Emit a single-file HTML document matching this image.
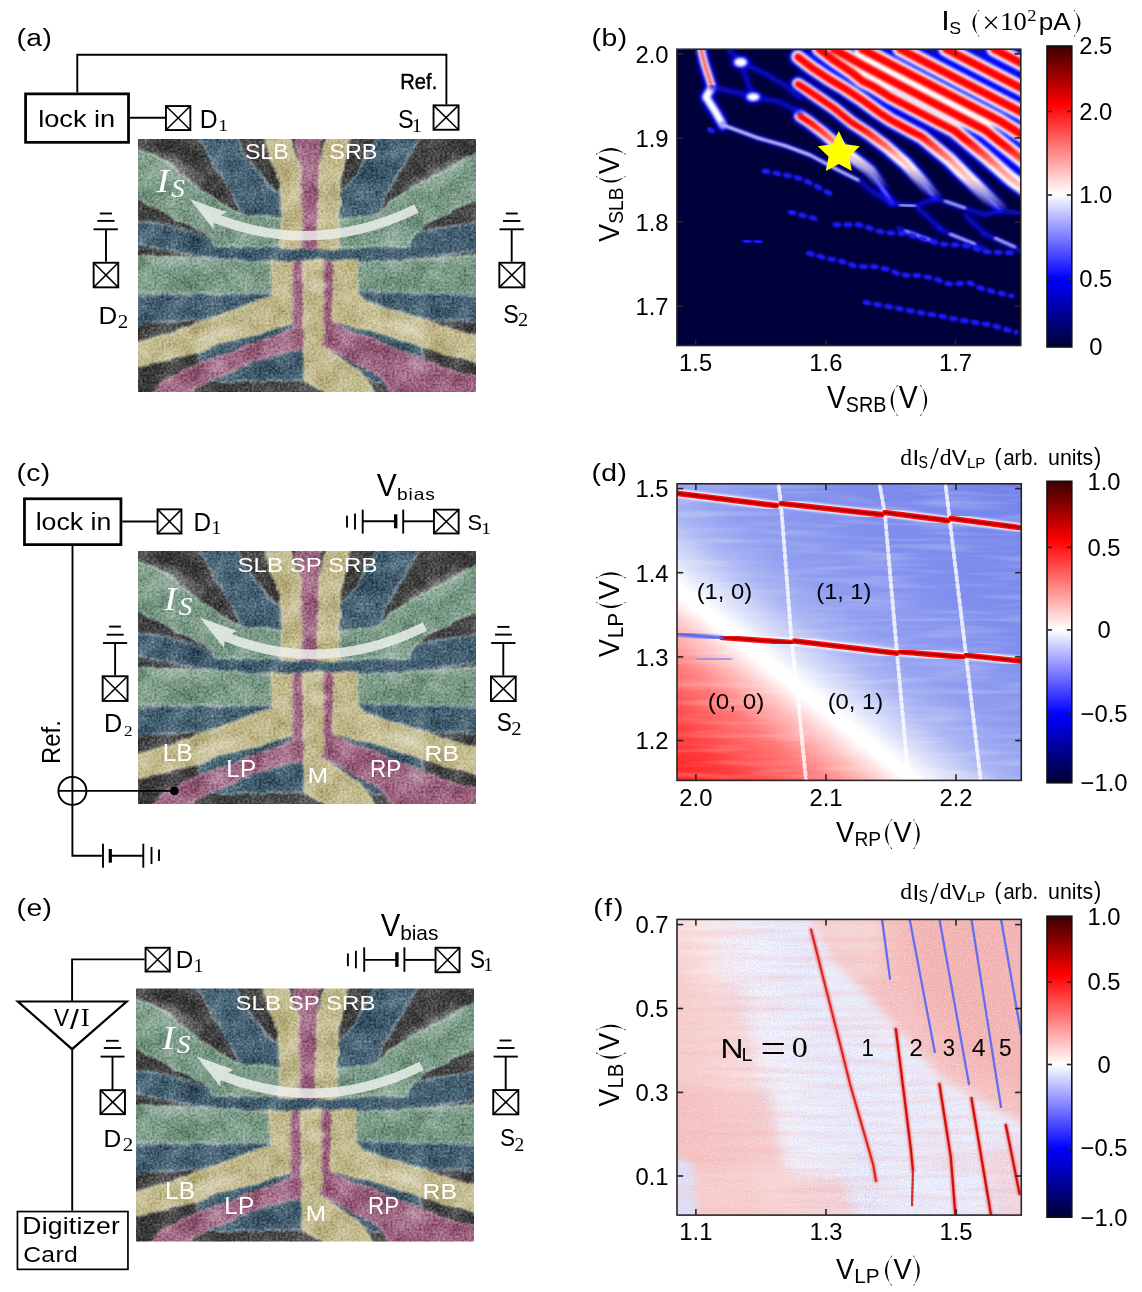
<!DOCTYPE html>
<html><head><meta charset="utf-8"><style>
html,body{margin:0;padding:0;background:#fff;}
svg{display:block;will-change:transform;}
</style></head><body>
<svg width="1142" height="1292" viewBox="0 0 1142 1292">
<defs>
<clipPath id="semclip"><rect x="0" y="0" width="338" height="253"/></clipPath>
<filter id="semfx" filterUnits="userSpaceOnUse" x="-8" y="-8" width="354" height="269" color-interpolation-filters="sRGB"><feTurbulence type="fractalNoise" baseFrequency="0.07" numOctaves="2" seed="21" result="dn"/><feDisplacementMap in="SourceGraphic" in2="dn" scale="5" xChannelSelector="R" yChannelSelector="G" result="disp"/><feGaussianBlur in="disp" stdDeviation="0.9" result="src"/><feTurbulence type="fractalNoise" baseFrequency="0.42" numOctaves="2" seed="4" result="t1"/><feColorMatrix in="t1" type="matrix" values="1.0 0 0 0 0  1.0 0 0 0 0  1.0 0 0 0 0  0 0 0 0 1" result="g1"/><feBlend in="g1" in2="src" mode="soft-light" result="b1"/><feTurbulence type="fractalNoise" baseFrequency="0.045" numOctaves="2" seed="11" result="t2"/><feColorMatrix in="t2" type="matrix" values="0.7 0 0 0 0.2  0.7 0 0 0 0.2  0.7 0 0 0 0.2  0 0 0 0 1" result="g2"/><feBlend in="g2" in2="b1" mode="soft-light" result="b2"/><feColorMatrix in="b2" type="saturate" values="0.78"/></filter>
<filter id="semhl" x="-50%" y="-50%" width="200%" height="200%"><feGaussianBlur stdDeviation="3"/></filter>
<g id="semimg"><g clip-path="url(#semclip)"><g filter="url(#semfx)">
<rect x="-8" y="-8" width="354" height="269" fill="#3d3d3d"/>
<polygon points="-8,80.7 29.6,85.8 59.2,94.7 77,100.6 142,108 200,108 272.6,96.2 281.5,91.8 302.2,88.8 346,82.9 346,109.5 302.2,117 272.6,122.8 200,123.5 133.2,123 88.8,120 59.2,117 29.6,111 -8,103.6" fill="#365b72" stroke="#7c94a3" stroke-width="2.0" stroke-linejoin="round"/>
<polygon points="58.5,-8 96.2,-8 106.6,14.8 121.4,34 133.2,48.8 142,54.8 144.3,80 103.6,79 102,71 88.8,44.4 74,22.2" fill="#365b72" stroke="#7c94a3" stroke-width="2.0" stroke-linejoin="round"/>
<polygon points="243,-8 285.9,-8 263.7,29.6 246,59.2 241.5,75.5 232,80 200.1,80 200.1,54.8 217.8,37" fill="#365b72" stroke="#7c94a3" stroke-width="2.0" stroke-linejoin="round"/>
<polygon points="-8,6.7 29.6,22.2 48.8,40 71,56.2 96.2,72.5 103.6,77 142.8,78.4 142.8,107.3 77,107.3 74,97.7 44.4,82.9 14.8,66.6 -8,56.2" fill="#6f9a80" stroke="#a1bdac" stroke-width="2.0" stroke-linejoin="round"/>
<polygon points="346,10.4 302.2,34 272.6,48.8 251.9,63.6 241.5,75.5 200.1,80.7 200.1,109.5 271,106.6 275.6,94.7 287.4,84.4 317,69.6 346,57.7" fill="#6f9a80" stroke="#a1bdac" stroke-width="2.0" stroke-linejoin="round"/>
<polygon points="126.2,-8 149.3,-8 156.6,15.8 161.9,26.3 164,42 164.3,109.5 144.3,109.5 144,60 142,42 133.5,21" fill="#c2b77c" stroke="#cfc698" stroke-width="2.0" stroke-linejoin="round"/>
<polygon points="156.2,-8 183.6,-8 181.9,15.8 179.8,27.3 180.8,109.5 164.3,109.5 164.5,60 164,27.3 160.8,15.8" fill="#a65a80" stroke="#b97e9b" stroke-width="2.0" stroke-linejoin="round"/>
<polygon points="190.3,-8 213.4,-8 207,21 201.8,42 200.8,60 200.1,109.5 180.8,109.5 180.8,27.3 185,15.8" fill="#c2b77c" stroke="#cfc698" stroke-width="2.0" stroke-linejoin="round"/>
<polygon points="-8,117 60,119 133.9,124.5 133.9,154.1 74,154.1 29.6,153.4 -8,154.9" fill="#6f9a80" stroke="#a1bdac" stroke-width="2.0" stroke-linejoin="round"/>
<polygon points="219,124.3 280,121 346,115.4 346,155.6 317,154.9 220.8,152.6" fill="#6f9a80" stroke="#a1bdac" stroke-width="2.0" stroke-linejoin="round"/>
<polygon points="-8,157 29.6,155.5 133.9,155 133.2,157.8 88.8,173.4 62,181 59.2,180.8 29.6,182.2 -8,185.2" fill="#365b72" stroke="#7c94a3" stroke-width="2.0" stroke-linejoin="round"/>
<polygon points="219.3,152.8 317,155.6 346,157 346,183.7 285.9,179.3 228,163 219.3,160" fill="#365b72" stroke="#7c94a3" stroke-width="2.0" stroke-linejoin="round"/>
<polygon points="62.2,212.5 81.4,204.4 103.6,198.5 125.8,192.6 155.4,184 155.4,191 119,203.4 89.3,215.3 62.5,224.3" fill="#365b72" stroke="#7c94a3" stroke-width="2.0" stroke-linejoin="round"/>
<polygon points="70,243 89.3,233.2 119,221.3 148.9,212.4 166.7,209.4 166.7,241.3 120,242 83,242.5" fill="#365b72" stroke="#7c94a3" stroke-width="2.0" stroke-linejoin="round"/>
<polygon points="195.6,180 203,183.7 243,194.1 284.4,207.4 284.4,220.7 243,203.5 203,189 195.6,183" fill="#365b72" stroke="#7c94a3" stroke-width="2.0" stroke-linejoin="round"/>
<polygon points="186.4,205 217.1,220 243.2,234 252,243 236,243.5 225.3,234.7 200.9,218.5 186.4,209" fill="#365b72" stroke="#7c94a3" stroke-width="2.0" stroke-linejoin="round"/>
<polygon points="133.9,122 155.4,122 155.4,183.7 152.4,184.5 125.8,192.6 103.6,198.5 81.4,204.4 59.2,213.3 29.6,220.7 -8,228.1 -8,205.9 29.6,195.6 59.2,184.5 88.8,173.4 133.2,157.8 133.9,155" fill="#c2b77c" stroke="#cfc698" stroke-width="2.0" stroke-linejoin="round"/>
<polygon points="155.4,122 165.8,122 165.8,209.4 148.9,212.4 119,221.3 89.3,233.2 59.5,246.6 50,261 8.9,261 29.8,239.2 62.5,224.3 89.3,215.3 119,203.4 153.3,191.5 155.4,190" fill="#a65a80" stroke="#b97e9b" stroke-width="2.0" stroke-linejoin="round"/>
<polygon points="165.8,122 186.4,122 186.4,208.7 200.9,218.5 225.3,234.7 240,261 199.2,261 166.7,241.3" fill="#c2b77c" stroke="#cfc698" stroke-width="2.0" stroke-linejoin="round"/>
<polygon points="186.4,122 195.6,122 195.6,182 203,188.2 243,203 284.4,220.7 317,232.6 346,240 346,261 257.8,261 243,238.5 213.4,220.7 186.4,207" fill="#a65a80" stroke="#b97e9b" stroke-width="2.0" stroke-linejoin="round"/>
<polygon points="195.3,122 219.3,122 219.3,155 228,164 243,168.9 285.9,180.8 317,191.1 346,198.5 346,226.6 317,217.8 284.4,207.4 243,194.1 203,183.7 195.6,182.2" fill="#c2b77c" stroke="#cfc698" stroke-width="2.0" stroke-linejoin="round"/>
<ellipse cx="78" cy="195" rx="26" ry="6" transform="rotate(-18 78 195)" fill="#ffffff" opacity="0.32" filter="url(#semhl)"/>
<ellipse cx="272" cy="191" rx="21" ry="6" transform="rotate(18 272 191)" fill="#ffffff" opacity="0.3" filter="url(#semhl)"/>
<ellipse cx="181" cy="146" rx="11" ry="5" transform="rotate(0 181 146)" fill="#ffffff" opacity="0.35" filter="url(#semhl)"/>
<ellipse cx="157" cy="55" rx="6" ry="9" transform="rotate(0 157 55)" fill="#ffffff" opacity="0.25" filter="url(#semhl)"/>
<ellipse cx="76" cy="229" rx="12" ry="5" transform="rotate(-25 76 229)" fill="#ffffff" opacity="0.28" filter="url(#semhl)"/>
<ellipse cx="280" cy="227" rx="12" ry="5" transform="rotate(22 280 227)" fill="#ffffff" opacity="0.28" filter="url(#semhl)"/>
<ellipse cx="40" cy="28" rx="30" ry="5" transform="rotate(33 40 28)" fill="#ffffff" opacity="0.28" filter="url(#semhl)"/>
<ellipse cx="292" cy="37" rx="32" ry="5" transform="rotate(-28 292 37)" fill="#ffffff" opacity="0.28" filter="url(#semhl)"/>
<ellipse cx="40" cy="122" rx="28" ry="4" transform="rotate(3 40 122)" fill="#ffffff" opacity="0.2" filter="url(#semhl)"/>
<ellipse cx="300" cy="120" rx="28" ry="4" transform="rotate(-3 300 120)" fill="#ffffff" opacity="0.2" filter="url(#semhl)"/>
<ellipse cx="190" cy="60" rx="6" ry="10" transform="rotate(0 190 60)" fill="#ffffff" opacity="0.2" filter="url(#semhl)"/>
</g></g></g>
<linearGradient id="seismic" x1="0" y1="1" x2="0" y2="0"><stop offset="0" stop-color="#000035"/><stop offset="0.228" stop-color="#0000ff"/><stop offset="0.508" stop-color="#ffffff"/><stop offset="0.805" stop-color="#ff0000"/><stop offset="1" stop-color="#3a0000"/></linearGradient>
<clipPath id="clipb"><rect x="676.9" y="49.2" width="343.9" height="296.3"/></clipPath>
<clipPath id="clipd"><rect x="677" y="483.8" width="344.3" height="296.6"/></clipPath>
<clipPath id="clipf"><rect x="677" y="919.4" width="344.3" height="295.7"/></clipPath>
<filter id="bl0_6" x="-20%" y="-20%" width="140%" height="140%"><feGaussianBlur stdDeviation="0.6"/></filter>
<filter id="bl1_0" x="-20%" y="-20%" width="140%" height="140%"><feGaussianBlur stdDeviation="1.0"/></filter>
<filter id="bl1_5" x="-20%" y="-20%" width="140%" height="140%"><feGaussianBlur stdDeviation="1.5"/></filter>
<filter id="bl2_0" x="-20%" y="-20%" width="140%" height="140%"><feGaussianBlur stdDeviation="2.0"/></filter>
<filter id="bl2_5" x="-20%" y="-20%" width="140%" height="140%"><feGaussianBlur stdDeviation="2.5"/></filter>
<filter id="bl3_0" x="-20%" y="-20%" width="140%" height="140%"><feGaussianBlur stdDeviation="3.0"/></filter>
<filter id="bl4_0" x="-20%" y="-20%" width="140%" height="140%"><feGaussianBlur stdDeviation="4.0"/></filter>
<filter id="bl6_0" x="-20%" y="-20%" width="140%" height="140%"><feGaussianBlur stdDeviation="6.0"/></filter>
<filter id="bl10_0" x="-20%" y="-20%" width="140%" height="140%"><feGaussianBlur stdDeviation="10.0"/></filter>
<filter id="bl18_0" x="-20%" y="-20%" width="140%" height="140%"><feGaussianBlur stdDeviation="18.0"/></filter>
<linearGradient id="dgrad" gradientUnits="userSpaceOnUse" x1="576.36" y1="714.48" x2="865.7" y2="356.6"><stop offset="0" stop-color="#ff1e1e"/><stop offset="0.11" stop-color="#ff3c3c"/><stop offset="0.22" stop-color="#ff7878"/><stop offset="0.29" stop-color="#ffc0c0"/><stop offset="0.34" stop-color="#ffffff"/><stop offset="0.36" stop-color="#ffffff"/><stop offset="0.4" stop-color="#dce1fa"/><stop offset="0.47" stop-color="#aab5f3"/><stop offset="0.55" stop-color="#909ef0"/><stop offset="0.72" stop-color="#808fed"/><stop offset="1" stop-color="#7483ea"/></linearGradient>
</defs>
<rect width="1142" height="1292" fill="#fff"/>
<text transform="translate(16.6,45.73) scale(1.1500,1)" x="0" y="0" font-size="24.6" letter-spacing="0.3" style="font-family:'Liberation Sans', sans-serif;" fill="#000" >(a)</text>
<polyline points="77.3,92.5 77.3,54.7 446.4,54.7 446.4,104.4" fill="none" stroke="#000" stroke-width="1.9" stroke-linejoin="miter" />
<rect x="25.57" y="93.88" width="102.95" height="48.45" fill="none" stroke="#000" stroke-width="2.75"/>
<text transform="translate(38.23,127.25) scale(1.0973,1)" x="0" y="0" font-size="24.76" style="font-family:'Liberation Sans', sans-serif;" fill="#000" >lock in</text>
<line x1="129.9" y1="117.7" x2="165" y2="117.7" stroke="#000" stroke-width="1.9" />
<rect x="165.95" y="106.05" width="24.4" height="24" fill="none" stroke="#000" stroke-width="1.9"/>
<line x1="165.95" y1="106.05" x2="190.35" y2="130.05" stroke="#000" stroke-width="1.5" />
<line x1="165.95" y1="130.05" x2="190.35" y2="106.05" stroke="#000" stroke-width="1.5" />
<text transform="translate(199.82,128.2) scale(0.9577,1)" x="0" y="0" font-size="25.8" style="font-family:'Liberation Sans', sans-serif;" fill="#000" >D</text>
<text transform="translate(218.13,131.4) scale(1.1200,1)" x="0" y="0" font-size="17.58" style="font-family:'Liberation Serif', serif;" fill="#000" >1</text>
<text transform="translate(400.29,89.49) scale(0.9388,1)" x="0" y="0" font-size="21.5" style="font-family:'Liberation Sans', sans-serif;" fill="#000" stroke="#000" stroke-width="0.45">Ref.</text>
<rect x="433.55" y="105.35" width="25" height="24.4" fill="none" stroke="#000" stroke-width="1.9"/>
<line x1="433.55" y1="105.35" x2="458.55" y2="129.75" stroke="#000" stroke-width="1.5" />
<line x1="433.55" y1="129.75" x2="458.55" y2="105.35" stroke="#000" stroke-width="1.5" />
<text transform="translate(397.94,128.24) scale(0.8962,1)" x="0" y="0" font-size="26.2" style="font-family:'Liberation Sans', sans-serif;" fill="#000" >S</text>
<text transform="translate(411.8,131.7) scale(1.1200,1)" x="0" y="0" font-size="18.18" style="font-family:'Liberation Serif', serif;" fill="#000" >1</text>
<line x1="99.8" y1="213.5" x2="112" y2="213.5" stroke="#000" stroke-width="1.9" />
<line x1="97.3" y1="220.9" x2="114.5" y2="220.9" stroke="#000" stroke-width="1.9" />
<line x1="93.5" y1="229.3" x2="117.9" y2="229.3" stroke="#000" stroke-width="1.9" />
<line x1="106" y1="229.3" x2="106" y2="261.8" stroke="#000" stroke-width="1.9" />
<rect x="93.65" y="262.75" width="24.6" height="24.6" fill="none" stroke="#000" stroke-width="1.9"/>
<line x1="93.65" y1="262.75" x2="118.25" y2="287.35" stroke="#000" stroke-width="1.5" />
<line x1="93.65" y1="287.35" x2="118.25" y2="262.75" stroke="#000" stroke-width="1.5" />
<text transform="translate(98.53,323.5) scale(1.0630,1)" x="0" y="0" font-size="24.35" style="font-family:'Liberation Sans', sans-serif;" fill="#000" >D</text>
<text transform="translate(117.64,327.8) scale(1.1200,1)" x="0" y="0" font-size="18.79" style="font-family:'Liberation Serif', serif;" fill="#000" >2</text>
<line x1="505.8" y1="213.5" x2="517.7" y2="213.5" stroke="#000" stroke-width="1.9" />
<line x1="503" y1="221" x2="520.4" y2="221" stroke="#000" stroke-width="1.9" />
<line x1="499.5" y1="229.3" x2="523.8" y2="229.3" stroke="#000" stroke-width="1.9" />
<line x1="511.7" y1="229.3" x2="511.7" y2="261.8" stroke="#000" stroke-width="1.9" />
<rect x="499.35" y="262.75" width="25" height="24.6" fill="none" stroke="#000" stroke-width="1.9"/>
<line x1="499.35" y1="262.75" x2="524.35" y2="287.35" stroke="#000" stroke-width="1.5" />
<line x1="499.35" y1="287.35" x2="524.35" y2="262.75" stroke="#000" stroke-width="1.5" />
<text transform="translate(503.26,322.74) scale(0.8929,1)" x="0" y="0" font-size="26.06" style="font-family:'Liberation Sans', sans-serif;" fill="#000" >S</text>
<text transform="translate(517.89,326.2) scale(1.0778,1)" x="0" y="0" font-size="18.79" style="font-family:'Liberation Serif', serif;" fill="#000" >2</text>
<use href="#semimg" x="138" y="139"/>
<g transform="translate(138,139)" opacity="0.82"><path d="M278.5,69.6 Q175.25,120 72,77" fill="none" stroke="#eef2ee" stroke-width="9.5" stroke-linecap="butt"/><polygon points="51.8,60 88.8,73.3 76,80 75.5,90.3" fill="#eef2ee"/></g>
<text transform="translate(156.49,192.2) scale(1.1200,1)" x="0" y="0" font-size="34.05" style="font-family:'Liberation Serif', serif;font-style:italic;" fill="#fff" >I</text>
<text transform="translate(171.3,196.96) scale(1.1200,1)" x="0" y="0" font-size="24.18" style="font-family:'Liberation Serif', serif;font-style:italic;" fill="#fff" >S</text>
<text transform="translate(244.96,159.48) scale(1.0659,1)" x="0" y="0" font-size="21.69" style="font-family:'Liberation Sans', sans-serif;" fill="#fff" >SLB</text>
<text transform="translate(329.35,159.48) scale(1.0773,1)" x="0" y="0" font-size="21.69" style="font-family:'Liberation Sans', sans-serif;" fill="#fff" >SRB</text>
<use href="#semimg" x="138" y="551"/>
<text transform="translate(16.6,480.73) scale(1.1500,1)" x="0" y="0" font-size="24.6" letter-spacing="0.28" style="font-family:'Liberation Sans', sans-serif;" fill="#000" >(c)</text>
<rect x="24.48" y="498.77" width="96.45" height="45.85" fill="none" stroke="#000" stroke-width="2.75"/>
<text transform="translate(35.66,529.96) scale(1.1037,1)" x="0" y="0" font-size="24.22" style="font-family:'Liberation Sans', sans-serif;" fill="#000" >lock in</text>
<line x1="122.3" y1="521.5" x2="156.6" y2="521.5" stroke="#000" stroke-width="1.9" />
<rect x="157.55" y="509.35" width="23.9" height="24.2" fill="none" stroke="#000" stroke-width="1.9"/>
<line x1="157.55" y1="509.35" x2="181.45" y2="533.55" stroke="#000" stroke-width="1.5" />
<line x1="157.55" y1="533.55" x2="181.45" y2="509.35" stroke="#000" stroke-width="1.5" />
<text transform="translate(193.55,530.5) scale(0.9609,1)" x="0" y="0" font-size="25.36" style="font-family:'Liberation Sans', sans-serif;" fill="#000" >D</text>
<text transform="translate(211.15,533.5) scale(1.1200,1)" x="0" y="0" font-size="18.18" style="font-family:'Liberation Serif', serif;" fill="#000" >1</text>
<polyline points="72.5,546 72.5,776.9" fill="none" stroke="#000" stroke-width="1.9" stroke-linejoin="miter" />
<circle cx="72.4" cy="790.9" r="14" fill="none" stroke="#000" stroke-width="1.9"/>
<line x1="72.4" y1="776.9" x2="72.4" y2="804.9" stroke="#000" stroke-width="1.9" />
<line x1="58.4" y1="790.9" x2="174.3" y2="790.9" stroke="#000" stroke-width="1.9" />
<circle cx="174.3" cy="790.9" r="4.4" fill="#000"/>
<polyline points="72.4,804.9 72.4,855.7 103,855.7" fill="none" stroke="#000" stroke-width="1.9" stroke-linejoin="miter" />
<line x1="103" y1="843.7" x2="103" y2="867.7" stroke="#000" stroke-width="1.9" />
<line x1="110.3" y1="849" x2="110.3" y2="862.7" stroke="#000" stroke-width="3.2" />
<line x1="110.3" y1="855.7" x2="143.3" y2="855.7" stroke="#000" stroke-width="1.9" />
<line x1="143.3" y1="843.7" x2="143.3" y2="867.7" stroke="#000" stroke-width="1.9" />
<line x1="151.5" y1="847" x2="151.5" y2="864" stroke="#000" stroke-width="1.9" />
<line x1="159" y1="849.5" x2="159" y2="861" stroke="#000" stroke-width="1.9" />
<text transform="translate(60.05,763.91) rotate(-90) scale(0.9529,1)" x="0" y="0" font-size="25.03" style="font-family:'Liberation Sans', sans-serif;" fill="#000" >Ref.</text>
<line x1="347" y1="515.7" x2="347" y2="527.4" stroke="#000" stroke-width="1.9" />
<line x1="355" y1="513.4" x2="355" y2="529.5" stroke="#000" stroke-width="1.9" />
<line x1="362.7" y1="509.6" x2="362.7" y2="533.6" stroke="#000" stroke-width="1.9" />
<line x1="362.7" y1="521.3" x2="395.7" y2="521.3" stroke="#000" stroke-width="1.9" />
<line x1="395.7" y1="514.3" x2="395.7" y2="528.3" stroke="#000" stroke-width="3.4" />
<line x1="403.2" y1="509.6" x2="403.2" y2="533.6" stroke="#000" stroke-width="1.9" />
<line x1="403.2" y1="521.3" x2="433" y2="521.3" stroke="#000" stroke-width="1.9" />
<rect x="433.95" y="509.65" width="24.7" height="23.8" fill="none" stroke="#000" stroke-width="1.9"/>
<line x1="433.95" y1="509.65" x2="458.65" y2="533.45" stroke="#000" stroke-width="1.5" />
<line x1="433.95" y1="533.45" x2="458.65" y2="509.65" stroke="#000" stroke-width="1.5" />
<text transform="translate(376.75,495.9) scale(0.9832,1)" x="0" y="0" font-size="30.43" style="font-family:'Liberation Sans', sans-serif;" fill="#000" >V</text>
<text transform="translate(397.05,500.13) scale(1.1500,1)" x="0" y="0" font-size="16.73" letter-spacing="0.73" style="font-family:'Liberation Sans', sans-serif;" fill="#000" >bias</text>
<text transform="translate(467.41,530.17) scale(0.9664,1)" x="0" y="0" font-size="22.68" style="font-family:'Liberation Sans', sans-serif;" fill="#000" >S</text>
<text transform="translate(481.23,533.5) scale(1.1200,1)" x="0" y="0" font-size="17.42" style="font-family:'Liberation Serif', serif;" fill="#000" >1</text>
<line x1="109.1" y1="626.6" x2="120.9" y2="626.6" stroke="#000" stroke-width="1.9" />
<line x1="106.6" y1="634.7" x2="123.7" y2="634.7" stroke="#000" stroke-width="1.9" />
<line x1="103" y1="643" x2="127.2" y2="643" stroke="#000" stroke-width="1.9" />
<line x1="115.1" y1="643" x2="115.1" y2="675.3" stroke="#000" stroke-width="1.9" />
<rect x="102.65" y="676.25" width="24.9" height="24.7" fill="none" stroke="#000" stroke-width="1.9"/>
<line x1="102.65" y1="676.25" x2="127.55" y2="700.95" stroke="#000" stroke-width="1.5" />
<line x1="102.65" y1="700.95" x2="127.55" y2="676.25" stroke="#000" stroke-width="1.5" />
<text transform="translate(103.98,732.2) scale(0.9772,1)" x="0" y="0" font-size="25.8" style="font-family:'Liberation Sans', sans-serif;" fill="#000" >D</text>
<text transform="translate(124.05,736) scale(1.1200,1)" x="0" y="0" font-size="15.3" style="font-family:'Liberation Serif', serif;" fill="#000" >2</text>
<line x1="497.3" y1="626.9" x2="509.5" y2="626.9" stroke="#000" stroke-width="1.9" />
<line x1="495" y1="634.6" x2="511.8" y2="634.6" stroke="#000" stroke-width="1.9" />
<line x1="491.1" y1="643" x2="515.5" y2="643" stroke="#000" stroke-width="1.9" />
<line x1="503.3" y1="643" x2="503.3" y2="675.5" stroke="#000" stroke-width="1.9" />
<rect x="490.95" y="676.45" width="24.8" height="24.6" fill="none" stroke="#000" stroke-width="1.9"/>
<line x1="490.95" y1="676.45" x2="515.75" y2="701.05" stroke="#000" stroke-width="1.5" />
<line x1="490.95" y1="701.05" x2="515.75" y2="676.45" stroke="#000" stroke-width="1.5" />
<text transform="translate(496.67,730.95) scale(0.8929,1)" x="0" y="0" font-size="25.35" style="font-family:'Liberation Sans', sans-serif;" fill="#000" >S</text>
<text transform="translate(511.18,734.7) scale(1.1200,1)" x="0" y="0" font-size="18.48" style="font-family:'Liberation Serif', serif;" fill="#000" >2</text>
<g transform="translate(138,551)" opacity="0.82"><path d="M287,75.5 Q184.65,126.6 82.3,83.6" fill="none" stroke="#eef2ee" stroke-width="9.5" stroke-linecap="butt"/><polygon points="62.1,66.6 99.1,79.9 86.3,86.6 85.8,96.9" fill="#eef2ee"/></g>
<text transform="translate(163.89,610.2) scale(1.1200,1)" x="0" y="0" font-size="34.05" style="font-family:'Liberation Serif', serif;font-style:italic;" fill="#fff" >I</text>
<text transform="translate(178.7,614.96) scale(1.1200,1)" x="0" y="0" font-size="24.18" style="font-family:'Liberation Serif', serif;font-style:italic;" fill="#fff" >S</text>
<text transform="translate(237.52,572.09) scale(1.1500,1)" x="0" y="0" font-size="20.85" letter-spacing="0.05" style="font-family:'Liberation Sans', sans-serif;" fill="#fff" >SLB SP SRB</text>
<text transform="translate(162.64,761.1) scale(1.0369,1)" x="0" y="0" font-size="23.62" style="font-family:'Liberation Sans', sans-serif;" fill="#fff" >LB</text>
<text transform="translate(226.35,776.6) scale(1.0144,1)" x="0" y="0" font-size="24.06" style="font-family:'Liberation Sans', sans-serif;" fill="#fff" >LP</text>
<text transform="translate(307.65,783.3) scale(1.0624,1)" x="0" y="0" font-size="22.9" style="font-family:'Liberation Sans', sans-serif;" fill="#fff" >M</text>
<text transform="translate(370.01,776.6) scale(0.9307,1)" x="0" y="0" font-size="24.06" style="font-family:'Liberation Sans', sans-serif;" fill="#fff" >RP</text>
<text transform="translate(424.53,761.1) scale(1.1500,1)" x="0" y="0" font-size="21.45" letter-spacing="0.12" style="font-family:'Liberation Sans', sans-serif;" fill="#fff" >RB</text>
<text transform="translate(16.6,915.73) scale(1.1500,1)" x="0" y="0" font-size="24.6" letter-spacing="0.38" style="font-family:'Liberation Sans', sans-serif;" fill="#000" >(e)</text>
<rect x="145.55" y="947.75" width="24.2" height="23.8" fill="none" stroke="#000" stroke-width="1.9"/>
<line x1="145.55" y1="947.75" x2="169.75" y2="971.55" stroke="#000" stroke-width="1.5" />
<line x1="145.55" y1="971.55" x2="169.75" y2="947.75" stroke="#000" stroke-width="1.5" />
<text transform="translate(175.66,968.3) scale(0.9940,1)" x="0" y="0" font-size="24.35" style="font-family:'Liberation Sans', sans-serif;" fill="#000" >D</text>
<text transform="translate(193.44,971.8) scale(1.1200,1)" x="0" y="0" font-size="17.88" style="font-family:'Liberation Serif', serif;" fill="#000" >1</text>
<polyline points="144.6,959.4 72.1,959.4 72.1,1001.5" fill="none" stroke="#000" stroke-width="1.9" stroke-linejoin="miter" />
<polygon points="17.9,1001.5 126.7,1001.5 72.1,1049.2" fill="none" stroke="#000" stroke-width="2.2" stroke-linejoin="miter" />
<text transform="translate(54.09,1025.8) scale(0.9288,1)" x="0" y="0" font-size="24.49" style="font-family:'Liberation Sans', sans-serif;" fill="#000" >V</text>
<text transform="translate(70.12,1028.61) scale(1.1200,1)" x="0" y="0" font-size="28.57" style="font-family:'Liberation Sans', sans-serif;" fill="#000" >/</text>
<text transform="translate(80.86,1025.8) scale(1.0384,1)" x="0" y="0" font-size="25.8" style="font-family:'Liberation Serif', serif;" fill="#000" >I</text>
<line x1="72.2" y1="1049.2" x2="72.2" y2="1210.7" stroke="#000" stroke-width="1.9" />
<rect x="17.45" y="1211.55" width="110.5" height="57.8" fill="none" stroke="#000" stroke-width="1.7"/>
<text transform="translate(22.27,1233.75) scale(1.1500,1)" x="0" y="0" font-size="23.1" letter-spacing="0.18" style="font-family:'Liberation Sans', sans-serif;" fill="#000" >Digitizer</text>
<text transform="translate(23.16,1262.39) scale(1.1500,1)" x="0" y="0" font-size="21.5" letter-spacing="0.3" style="font-family:'Liberation Sans', sans-serif;" fill="#000" >Card</text>
<line x1="106" y1="1040.8" x2="118.7" y2="1040.8" stroke="#000" stroke-width="1.9" />
<line x1="103.8" y1="1048" x2="121.2" y2="1048" stroke="#000" stroke-width="1.9" />
<line x1="100.5" y1="1056.6" x2="124.5" y2="1056.6" stroke="#000" stroke-width="1.9" />
<line x1="112.5" y1="1056.6" x2="112.5" y2="1089.2" stroke="#000" stroke-width="1.9" />
<rect x="100.45" y="1090.15" width="24.5" height="24" fill="none" stroke="#000" stroke-width="1.9"/>
<line x1="100.45" y1="1090.15" x2="124.95" y2="1114.15" stroke="#000" stroke-width="1.5" />
<line x1="100.45" y1="1114.15" x2="124.95" y2="1090.15" stroke="#000" stroke-width="1.5" />
<text transform="translate(103.44,1146.9) scale(0.9901,1)" x="0" y="0" font-size="24.78" style="font-family:'Liberation Sans', sans-serif;" fill="#000" >D</text>
<text transform="translate(122.69,1150.8) scale(1.1200,1)" x="0" y="0" font-size="18.64" style="font-family:'Liberation Serif', serif;" fill="#000" >2</text>
<line x1="347.9" y1="953.4" x2="347.9" y2="966.2" stroke="#000" stroke-width="1.9" />
<line x1="355.9" y1="950.8" x2="355.9" y2="968.3" stroke="#000" stroke-width="1.9" />
<line x1="364.2" y1="947.3" x2="364.2" y2="971.8" stroke="#000" stroke-width="1.9" />
<line x1="364.2" y1="959.9" x2="396.9" y2="959.9" stroke="#000" stroke-width="1.9" />
<line x1="396.9" y1="952.2" x2="396.9" y2="966.9" stroke="#000" stroke-width="3.4" />
<line x1="404.4" y1="947.3" x2="404.4" y2="971.8" stroke="#000" stroke-width="1.9" />
<line x1="404.4" y1="959.9" x2="434.6" y2="959.9" stroke="#000" stroke-width="1.9" />
<rect x="435.55" y="947.75" width="24" height="24.5" fill="none" stroke="#000" stroke-width="1.9"/>
<line x1="435.55" y1="947.75" x2="459.55" y2="972.25" stroke="#000" stroke-width="1.5" />
<line x1="435.55" y1="972.25" x2="459.55" y2="947.75" stroke="#000" stroke-width="1.5" />
<text transform="translate(380.65,935.9) scale(0.9236,1)" x="0" y="0" font-size="31.74" style="font-family:'Liberation Sans', sans-serif;" fill="#000" >V</text>
<text transform="translate(400.14,940.1) scale(1.0292,1)" x="0" y="0" font-size="20.27" style="font-family:'Liberation Sans', sans-serif;" fill="#000" >bias</text>
<text transform="translate(469.98,968.45) scale(0.8968,1)" x="0" y="0" font-size="25.21" style="font-family:'Liberation Sans', sans-serif;" fill="#000" >S</text>
<text transform="translate(483.32,971) scale(1.0845,1)" x="0" y="0" font-size="18.18" style="font-family:'Liberation Serif', serif;" fill="#000" >1</text>
<line x1="499.5" y1="1040.5" x2="511.5" y2="1040.5" stroke="#000" stroke-width="1.9" />
<line x1="497" y1="1048" x2="514.5" y2="1048" stroke="#000" stroke-width="1.9" />
<line x1="493.6" y1="1056.6" x2="517.8" y2="1056.6" stroke="#000" stroke-width="1.9" />
<line x1="505.7" y1="1056.6" x2="505.7" y2="1089.1" stroke="#000" stroke-width="1.9" />
<rect x="493.25" y="1090.05" width="25.1" height="24.3" fill="none" stroke="#000" stroke-width="1.9"/>
<line x1="493.25" y1="1090.05" x2="518.35" y2="1114.35" stroke="#000" stroke-width="1.5" />
<line x1="493.25" y1="1114.35" x2="518.35" y2="1090.05" stroke="#000" stroke-width="1.5" />
<text transform="translate(499.98,1146.35) scale(0.9121,1)" x="0" y="0" font-size="24.79" style="font-family:'Liberation Sans', sans-serif;" fill="#000" >S</text>
<text transform="translate(514.42,1150.7) scale(1.0549,1)" x="0" y="0" font-size="18.48" style="font-family:'Liberation Serif', serif;" fill="#000" >2</text>
<use href="#semimg" x="136" y="988.5"/>
<g transform="translate(136,988.5)" opacity="0.82"><path d="M285.6,77.5 Q183.25,128 80.9,85" fill="none" stroke="#eef2ee" stroke-width="9.5" stroke-linecap="butt"/><polygon points="60.7,68 97.7,81.3 84.9,88 84.4,98.3" fill="#eef2ee"/></g>
<text transform="translate(161.89,1048.7) scale(1.1200,1)" x="0" y="0" font-size="34.05" style="font-family:'Liberation Serif', serif;font-style:italic;" fill="#fff" >I</text>
<text transform="translate(176.7,1053.46) scale(1.1200,1)" x="0" y="0" font-size="24.18" style="font-family:'Liberation Serif', serif;font-style:italic;" fill="#fff" >S</text>
<text transform="translate(235.52,1009.59) scale(1.1500,1)" x="0" y="0" font-size="20.85" letter-spacing="0.05" style="font-family:'Liberation Sans', sans-serif;" fill="#fff" >SLB SP SRB</text>
<text transform="translate(165.04,1198.6) scale(1.0369,1)" x="0" y="0" font-size="23.62" style="font-family:'Liberation Sans', sans-serif;" fill="#fff" >LB</text>
<text transform="translate(224.35,1214.1) scale(1.0144,1)" x="0" y="0" font-size="24.06" style="font-family:'Liberation Sans', sans-serif;" fill="#fff" >LP</text>
<text transform="translate(305.65,1220.8) scale(1.0624,1)" x="0" y="0" font-size="22.9" style="font-family:'Liberation Sans', sans-serif;" fill="#fff" >M</text>
<text transform="translate(368.01,1214.1) scale(0.9307,1)" x="0" y="0" font-size="24.06" style="font-family:'Liberation Sans', sans-serif;" fill="#fff" >RP</text>
<text transform="translate(422.53,1198.6) scale(1.1500,1)" x="0" y="0" font-size="21.45" letter-spacing="0.12" style="font-family:'Liberation Sans', sans-serif;" fill="#fff" >RB</text>
<g clip-path="url(#clipb)"><linearGradient id="mT1g" gradientUnits="userSpaceOnUse" x1="881.43" y1="130.09" x2="878.57" y2="153.91"><stop offset="0" stop-color="#fff"/><stop offset="1" stop-color="#000"/></linearGradient><mask id="mT1" maskUnits="userSpaceOnUse" x="600" y="0" width="500" height="400"><rect x="600" y="0" width="500" height="400" fill="url(#mT1g)"/></mask><linearGradient id="mT2bg" gradientUnits="userSpaceOnUse" x1="902.94" y1="150.29" x2="897.06" y2="179.71"><stop offset="0" stop-color="#fff"/><stop offset="1" stop-color="#000"/></linearGradient><mask id="mT2b" maskUnits="userSpaceOnUse" x="600" y="0" width="500" height="400"><rect x="600" y="0" width="500" height="400" fill="url(#mT2bg)"/></mask><linearGradient id="mT2g" gradientUnits="userSpaceOnUse" x1="902.55" y1="165.25" x2="897.45" y2="190.75"><stop offset="0" stop-color="#fff"/><stop offset="1" stop-color="#000"/></linearGradient><mask id="mT2" maskUnits="userSpaceOnUse" x="600" y="0" width="500" height="400"><rect x="600" y="0" width="500" height="400" fill="url(#mT2g)"/></mask><linearGradient id="mT3g" gradientUnits="userSpaceOnUse" x1="904.12" y1="205.51" x2="895.88" y2="238.49"><stop offset="0" stop-color="#fff"/><stop offset="1" stop-color="#000"/></linearGradient><mask id="mT3" maskUnits="userSpaceOnUse" x="600" y="0" width="500" height="400"><rect x="600" y="0" width="500" height="400" fill="url(#mT3g)"/></mask><linearGradient id="mT2ig" gradientUnits="userSpaceOnUse" x1="902.55" y1="167.25" x2="897.45" y2="192.75"><stop offset="0" stop-color="#000"/><stop offset="1" stop-color="#fff"/></linearGradient><mask id="mT2i" maskUnits="userSpaceOnUse" x="600" y="0" width="500" height="400"><rect x="600" y="0" width="500" height="400" fill="url(#mT2ig)"/></mask><rect x="676.9" y="49.2" width="343.9" height="296.3" fill="#00003a"/><polygon points="860,49 1021,49 1021,175 950,135" fill="#1a1aff" filter="url(#bl10_0)" opacity="0.85"/><g mask="url(#mT2)"><g filter="url(#bl2_0)"><path d="M994,49 L1030,67.7" fill="none" stroke="#0000ff" stroke-width="21.0" stroke-linecap="round" stroke-linejoin="round" /><path d="M946,49 L1030,92.7" fill="none" stroke="#0000ff" stroke-width="21.0" stroke-linecap="round" stroke-linejoin="round" /><path d="M900,49 L1021,112 L1030,118" fill="none" stroke="#0000ff" stroke-width="21.0" stroke-linecap="round" stroke-linejoin="round" /><path d="M862,49 L890,63.8 L1000,121 L1030,140" fill="none" stroke="#0000ff" stroke-width="21.0" stroke-linecap="round" stroke-linejoin="round" /><path d="M834,49 L862,65 L890,80 L985,130 L1010,150 L1030,166" fill="none" stroke="#0000ff" stroke-width="21.0" stroke-linecap="round" stroke-linejoin="round" /><path d="M819,49 L834,60.4 L851,71.8 L862.4,80.9 L873.8,86.6 L890,96.8 L955,131 L985,156 L1010,178 L1030,193" fill="none" stroke="#0000ff" stroke-width="19.95" stroke-linecap="round" stroke-linejoin="round" /><path d="M798,57 L811.2,67.2 L828.3,78.6 L845.4,88.8 L862.4,100.2 L879.5,112.7 L890,119.6 L922,137 L950,160 L972,182 L990,200 L1000,210" fill="none" stroke="#0000ff" stroke-width="18.900000000000002" stroke-linecap="round" stroke-linejoin="round" /><path d="M798,84 L805.5,88.8 L819.2,98 L834,108.2 L851,121.9 L868.1,133.2 L885.2,145.8 L905,163 L922,182 L935,198" fill="none" stroke="#0000ff" stroke-width="16.8" stroke-linecap="round" stroke-linejoin="round" /><path d="M800,116 L809,121.9 L823.7,133.2 L832.9,141.2 L845,152 L858,162 L870,171 L880,185 L892,203" fill="none" stroke="#0000ff" stroke-width="15.75" stroke-linecap="round" stroke-linejoin="round" /></g></g><g mask="url(#mT3)"><g mask="url(#mT2i)"><g filter="url(#bl1_5)"><path d="M994,49 L1030,67.7" fill="none" stroke="#0a0aff" stroke-width="8" stroke-linecap="round" stroke-linejoin="round" /><path d="M946,49 L1030,92.7" fill="none" stroke="#0a0aff" stroke-width="8" stroke-linecap="round" stroke-linejoin="round" /><path d="M900,49 L1021,112 L1030,118" fill="none" stroke="#0a0aff" stroke-width="8" stroke-linecap="round" stroke-linejoin="round" /><path d="M862,49 L890,63.8 L1000,121 L1030,140" fill="none" stroke="#0a0aff" stroke-width="8" stroke-linecap="round" stroke-linejoin="round" /><path d="M834,49 L862,65 L890,80 L985,130 L1010,150 L1030,166" fill="none" stroke="#0a0aff" stroke-width="8" stroke-linecap="round" stroke-linejoin="round" /><path d="M819,49 L834,60.4 L851,71.8 L862.4,80.9 L873.8,86.6 L890,96.8 L955,131 L985,156 L1010,178 L1030,193" fill="none" stroke="#0a0aff" stroke-width="8" stroke-linecap="round" stroke-linejoin="round" /><path d="M798,57 L811.2,67.2 L828.3,78.6 L845.4,88.8 L862.4,100.2 L879.5,112.7 L890,119.6 L922,137 L950,160 L972,182 L990,200 L1000,210" fill="none" stroke="#0a0aff" stroke-width="8" stroke-linecap="round" stroke-linejoin="round" /><path d="M798,84 L805.5,88.8 L819.2,98 L834,108.2 L851,121.9 L868.1,133.2 L885.2,145.8 L905,163 L922,182 L935,198" fill="none" stroke="#0a0aff" stroke-width="8" stroke-linecap="round" stroke-linejoin="round" /><path d="M800,116 L809,121.9 L823.7,133.2 L832.9,141.2 L845,152 L858,162 L870,171 L880,185 L892,203" fill="none" stroke="#0a0aff" stroke-width="8" stroke-linecap="round" stroke-linejoin="round" /></g></g></g><g mask="url(#mT3)"><g mask="url(#mT2i)"><g filter="url(#bl1_0)" opacity="0.55"><path d="M994,49 L1030,67.7" fill="none" stroke="#d0d0ff" stroke-width="2.5" stroke-linecap="round" stroke-linejoin="round" /><path d="M946,49 L1030,92.7" fill="none" stroke="#d0d0ff" stroke-width="2.5" stroke-linecap="round" stroke-linejoin="round" /><path d="M900,49 L1021,112 L1030,118" fill="none" stroke="#d0d0ff" stroke-width="2.5" stroke-linecap="round" stroke-linejoin="round" /><path d="M862,49 L890,63.8 L1000,121 L1030,140" fill="none" stroke="#d0d0ff" stroke-width="2.5" stroke-linecap="round" stroke-linejoin="round" /><path d="M834,49 L862,65 L890,80 L985,130 L1010,150 L1030,166" fill="none" stroke="#d0d0ff" stroke-width="2.5" stroke-linecap="round" stroke-linejoin="round" /><path d="M819,49 L834,60.4 L851,71.8 L862.4,80.9 L873.8,86.6 L890,96.8 L955,131 L985,156 L1010,178 L1030,193" fill="none" stroke="#d0d0ff" stroke-width="2.5" stroke-linecap="round" stroke-linejoin="round" /><path d="M798,57 L811.2,67.2 L828.3,78.6 L845.4,88.8 L862.4,100.2 L879.5,112.7 L890,119.6 L922,137 L950,160 L972,182 L990,200 L1000,210" fill="none" stroke="#d0d0ff" stroke-width="2.5" stroke-linecap="round" stroke-linejoin="round" /><path d="M798,84 L805.5,88.8 L819.2,98 L834,108.2 L851,121.9 L868.1,133.2 L885.2,145.8 L905,163 L922,182 L935,198" fill="none" stroke="#d0d0ff" stroke-width="2.5" stroke-linecap="round" stroke-linejoin="round" /><path d="M800,116 L809,121.9 L823.7,133.2 L832.9,141.2 L845,152 L858,162 L870,171 L880,185 L892,203" fill="none" stroke="#d0d0ff" stroke-width="2.5" stroke-linecap="round" stroke-linejoin="round" /></g></g></g><g mask="url(#mT2)"><g filter="url(#bl1_5)"><path d="M994,49 L1030,67.7" fill="none" stroke="#ffffff" stroke-width="15.0" stroke-linecap="round" stroke-linejoin="round" /><path d="M946,49 L1030,92.7" fill="none" stroke="#ffffff" stroke-width="15.0" stroke-linecap="round" stroke-linejoin="round" /><path d="M900,49 L1021,112 L1030,118" fill="none" stroke="#ffffff" stroke-width="15.0" stroke-linecap="round" stroke-linejoin="round" /><path d="M862,49 L890,63.8 L1000,121 L1030,140" fill="none" stroke="#ffffff" stroke-width="15.0" stroke-linecap="round" stroke-linejoin="round" /><path d="M834,49 L862,65 L890,80 L985,130 L1010,150 L1030,166" fill="none" stroke="#ffffff" stroke-width="15.0" stroke-linecap="round" stroke-linejoin="round" /><path d="M819,49 L834,60.4 L851,71.8 L862.4,80.9 L873.8,86.6 L890,96.8 L955,131 L985,156 L1010,178 L1030,193" fill="none" stroke="#ffffff" stroke-width="14.25" stroke-linecap="round" stroke-linejoin="round" /><path d="M798,57 L811.2,67.2 L828.3,78.6 L845.4,88.8 L862.4,100.2 L879.5,112.7 L890,119.6 L922,137 L950,160 L972,182 L990,200 L1000,210" fill="none" stroke="#ffffff" stroke-width="13.5" stroke-linecap="round" stroke-linejoin="round" /><path d="M798,84 L805.5,88.8 L819.2,98 L834,108.2 L851,121.9 L868.1,133.2 L885.2,145.8 L905,163 L922,182 L935,198" fill="none" stroke="#ffffff" stroke-width="12.0" stroke-linecap="round" stroke-linejoin="round" /><path d="M800,116 L809,121.9 L823.7,133.2 L832.9,141.2 L845,152 L858,162 L870,171 L880,185 L892,203" fill="none" stroke="#ffffff" stroke-width="11.25" stroke-linecap="round" stroke-linejoin="round" /></g></g><g mask="url(#mT2b)"><g filter="url(#bl1_5)"><path d="M994,49 L1030,67.7" fill="none" stroke="#ff9090" stroke-width="6.0" stroke-linecap="round" stroke-linejoin="round" /><path d="M946,49 L1030,92.7" fill="none" stroke="#ff9090" stroke-width="6.0" stroke-linecap="round" stroke-linejoin="round" /><path d="M900,49 L1021,112 L1030,118" fill="none" stroke="#ff9090" stroke-width="6.0" stroke-linecap="round" stroke-linejoin="round" /><path d="M862,49 L890,63.8 L1000,121 L1030,140" fill="none" stroke="#ff9090" stroke-width="6.0" stroke-linecap="round" stroke-linejoin="round" /><path d="M834,49 L862,65 L890,80 L985,130 L1010,150 L1030,166" fill="none" stroke="#ff9090" stroke-width="6.0" stroke-linecap="round" stroke-linejoin="round" /><path d="M819,49 L834,60.4 L851,71.8 L862.4,80.9 L873.8,86.6 L890,96.8 L955,131 L985,156 L1010,178 L1030,193" fill="none" stroke="#ff9090" stroke-width="5.699999999999999" stroke-linecap="round" stroke-linejoin="round" /><path d="M798,57 L811.2,67.2 L828.3,78.6 L845.4,88.8 L862.4,100.2 L879.5,112.7 L890,119.6 L922,137 L950,160 L972,182 L990,200 L1000,210" fill="none" stroke="#ff9090" stroke-width="5.4" stroke-linecap="round" stroke-linejoin="round" /><path d="M798,84 L805.5,88.8 L819.2,98 L834,108.2 L851,121.9 L868.1,133.2 L885.2,145.8 L905,163 L922,182 L935,198" fill="none" stroke="#ff9090" stroke-width="4.800000000000001" stroke-linecap="round" stroke-linejoin="round" /><path d="M800,116 L809,121.9 L823.7,133.2 L832.9,141.2 L845,152 L858,162 L870,171 L880,185 L892,203" fill="none" stroke="#ff9090" stroke-width="4.5" stroke-linecap="round" stroke-linejoin="round" /></g></g><g mask="url(#mT1)"><g filter="url(#bl1_5)"><path d="M994,49 L1030,67.7" fill="none" stroke="#ff0000" stroke-width="8.0" stroke-linecap="round" stroke-linejoin="round" /><path d="M946,49 L1030,92.7" fill="none" stroke="#ff0000" stroke-width="8.0" stroke-linecap="round" stroke-linejoin="round" /><path d="M900,49 L1021,112 L1030,118" fill="none" stroke="#ff0000" stroke-width="8.0" stroke-linecap="round" stroke-linejoin="round" /><path d="M862,49 L890,63.8 L1000,121 L1030,140" fill="none" stroke="#ff0000" stroke-width="8.0" stroke-linecap="round" stroke-linejoin="round" /><path d="M834,49 L862,65 L890,80 L985,130 L1010,150 L1030,166" fill="none" stroke="#ff0000" stroke-width="8.0" stroke-linecap="round" stroke-linejoin="round" /><path d="M819,49 L834,60.4 L851,71.8 L862.4,80.9 L873.8,86.6 L890,96.8 L955,131 L985,156 L1010,178 L1030,193" fill="none" stroke="#ff0000" stroke-width="7.6" stroke-linecap="round" stroke-linejoin="round" /><path d="M798,57 L811.2,67.2 L828.3,78.6 L845.4,88.8 L862.4,100.2 L879.5,112.7 L890,119.6 L922,137 L950,160 L972,182 L990,200 L1000,210" fill="none" stroke="#ff0000" stroke-width="7.2" stroke-linecap="round" stroke-linejoin="round" /><path d="M798,84 L805.5,88.8 L819.2,98 L834,108.2 L851,121.9 L868.1,133.2 L885.2,145.8 L905,163 L922,182 L935,198" fill="none" stroke="#ff0000" stroke-width="6.4" stroke-linecap="round" stroke-linejoin="round" /><path d="M800,116 L809,121.9 L823.7,133.2 L832.9,141.2 L845,152 L858,162 L870,171 L880,185 L892,203" fill="none" stroke="#ff0000" stroke-width="6.0" stroke-linecap="round" stroke-linejoin="round" /></g></g><path d="M701,49 L704,62 L712,87 L706,97 L715,111 L723,125" fill="none" stroke="#0000ff" stroke-width="13" stroke-linecap="round" stroke-linejoin="round" filter="url(#bl2_0)"/><path d="M701,49 L704,62 L712,87 L706,97 L715,111 L723,125" fill="none" stroke="#ffffff" stroke-width="7.5" stroke-linecap="round" stroke-linejoin="round" filter="url(#bl1_5)"/><path d="M701,49 L704,62 L712,87" fill="none" stroke="#ff6060" stroke-width="3.5" stroke-linecap="round" stroke-linejoin="round" filter="url(#bl1_0)"/><path d="M712,87 L742,93.7 L753,97" fill="none" stroke="#0808e8" stroke-width="5.5" stroke-linecap="round" stroke-linejoin="round" filter="url(#bl2_0)" opacity="0.85"/><path d="M740.6,62.2 L747,79.5 L753,97" fill="none" stroke="#0808e8" stroke-width="5.5" stroke-linecap="round" stroke-linejoin="round" filter="url(#bl2_0)" opacity="0.85"/><path d="M740.6,62.2 L764,73 L786,86 L800,98" fill="none" stroke="#0808e8" stroke-width="5.5" stroke-linecap="round" stroke-linejoin="round" filter="url(#bl2_0)" opacity="0.85"/><path d="M753,97 L778.5,101.6 L800,112" fill="none" stroke="#0808e8" stroke-width="5.5" stroke-linecap="round" stroke-linejoin="round" filter="url(#bl2_0)" opacity="0.85"/><path d="M728,49 L740.6,62.2" fill="none" stroke="#0808e8" stroke-width="5.5" stroke-linecap="round" stroke-linejoin="round" filter="url(#bl2_0)" opacity="0.85"/><path d="M723,125 L758,138 L786,146 L810,155 L838,170 L860,181 L873,192 L892,203" fill="none" stroke="#0808e8" stroke-width="5.5" stroke-linecap="round" stroke-linejoin="round" filter="url(#bl2_0)" opacity="0.85"/><path d="M892,203 L917,206 L935,198" fill="none" stroke="#0808e8" stroke-width="5.5" stroke-linecap="round" stroke-linejoin="round" filter="url(#bl2_0)" opacity="0.85"/><path d="M935,198 L960,207 L985,215 L1000,210" fill="none" stroke="#0808e8" stroke-width="5.5" stroke-linecap="round" stroke-linejoin="round" filter="url(#bl2_0)" opacity="0.85"/><path d="M1000,210 L1021,214" fill="none" stroke="#0808e8" stroke-width="5.5" stroke-linecap="round" stroke-linejoin="round" filter="url(#bl2_0)" opacity="0.85"/><path d="M898,228 L935,242" fill="none" stroke="#0808e8" stroke-width="5.5" stroke-linecap="round" stroke-linejoin="round" filter="url(#bl2_0)" opacity="0.85"/><path d="M939,229 L985,249" fill="none" stroke="#0808e8" stroke-width="5.5" stroke-linecap="round" stroke-linejoin="round" filter="url(#bl2_0)" opacity="0.85"/><path d="M985,234 L1021,251" fill="none" stroke="#0808e8" stroke-width="5.5" stroke-linecap="round" stroke-linejoin="round" filter="url(#bl2_0)" opacity="0.85"/><path d="M917,207 L941,229" fill="none" stroke="#0808e8" stroke-width="5.5" stroke-linecap="round" stroke-linejoin="round" filter="url(#bl2_0)" opacity="0.85"/><path d="M966,216 L985,234" fill="none" stroke="#0808e8" stroke-width="5.5" stroke-linecap="round" stroke-linejoin="round" filter="url(#bl2_0)" opacity="0.85"/><path d="M723,125 L758,138 L786,146 L810,155 L838,170 L858,180" fill="none" stroke="#c8c8ff" stroke-width="3" stroke-linecap="round" stroke-linejoin="round" filter="url(#bl1_0)"/><path d="M900,205 L915,206" fill="none" stroke="#b8b8ff" stroke-width="2.5" stroke-linecap="round" stroke-linejoin="round" filter="url(#bl1_0)"/><path d="M945,201 L965,208" fill="none" stroke="#b8b8ff" stroke-width="2.5" stroke-linecap="round" stroke-linejoin="round" filter="url(#bl1_0)"/><path d="M905,231 L930,240" fill="none" stroke="#b8b8ff" stroke-width="2.5" stroke-linecap="round" stroke-linejoin="round" filter="url(#bl1_0)"/><path d="M950,234 L975,244" fill="none" stroke="#b8b8ff" stroke-width="2.5" stroke-linecap="round" stroke-linejoin="round" filter="url(#bl1_0)"/><path d="M995,238 L1015,247" fill="none" stroke="#b8b8ff" stroke-width="2.5" stroke-linecap="round" stroke-linejoin="round" filter="url(#bl1_0)"/><ellipse cx="740.6" cy="62.2" rx="10" ry="7" fill="#0000ff" filter="url(#bl2_0)"/><ellipse cx="753.2" cy="96.9" rx="10" ry="6.5" fill="#0000ff" filter="url(#bl2_0)"/><ellipse cx="740.6" cy="62.2" rx="6.5" ry="4.5" fill="#ffffff" filter="url(#bl1_5)"/><ellipse cx="753.2" cy="96.9" rx="6.5" ry="4" fill="#ffffff" filter="url(#bl1_5)"/><path d="M709,129 L718,135" fill="none" stroke="#1c1cff" stroke-width="5" stroke-linecap="round" stroke-linejoin="round" filter="url(#bl1_0)" stroke-dasharray="4 7"/><path d="M764,171 L790,176 L802,179 L818,187 L834,196" fill="none" stroke="#1c1cff" stroke-width="5" stroke-linecap="round" stroke-linejoin="round" filter="url(#bl1_0)" stroke-dasharray="4 7"/><path d="M835,224.8 L859,224.8 L883,232.3 L907,233.7 L931,241.2 L943,244.2 L967,245.7 L985,251.7 L1017,253.2" fill="none" stroke="#1c1cff" stroke-width="5" stroke-linecap="round" stroke-linejoin="round" filter="url(#bl1_0)" stroke-dasharray="4 7"/><path d="M808.4,253.2 L826.3,258.2 L841.2,261.2 L856.2,266.6 L874,266.6 L889,269.6 L901,275 L919,275.5 L934,278.5 L949,284 L970,283 L979,287.5 L994,292 L1012,296" fill="none" stroke="#1c1cff" stroke-width="5" stroke-linecap="round" stroke-linejoin="round" filter="url(#bl1_0)" stroke-dasharray="4 7"/><path d="M865,302.4 L895,307.8 L913,311.4 L940,315.9 L958,319.7 L990,324.8 L1016,332.3" fill="none" stroke="#1c1cff" stroke-width="5" stroke-linecap="round" stroke-linejoin="round" filter="url(#bl1_0)" stroke-dasharray="4 7"/><path d="M790,212 L805,216 L820,220" fill="none" stroke="#1c1cff" stroke-width="5" stroke-linecap="round" stroke-linejoin="round" filter="url(#bl1_0)" stroke-dasharray="4 7"/><path d="M745,241 L762,242" fill="none" stroke="#1c1cff" stroke-width="5" stroke-linecap="round" stroke-linejoin="round" filter="url(#bl1_0)" stroke-dasharray="4 7"/><polygon points="838.8,131 845.15,144.36 859.82,146.27 849.07,156.44 851.79,170.98 838.8,163.9 825.81,170.98 828.53,156.44 817.78,146.27 832.45,144.36" fill="#ffff00"/></g>
<rect x="676.9" y="49.2" width="343.9" height="296.3" fill="none" stroke="#262626" stroke-width="1.6"/>
<line x1="676.9" y1="53.9" x2="683.1" y2="53.9" stroke="#262626" stroke-width="1.6"/>
<line x1="1020.8" y1="53.9" x2="1014.5999999999999" y2="53.9" stroke="#262626" stroke-width="1.6"/>
<text x="668.5" y="62.7" font-size="23.8" text-anchor="end" style="font-family:&quot;Liberation Sans&quot;, sans-serif;" fill="#000">2.0</text>
<line x1="676.9" y1="138" x2="683.1" y2="138" stroke="#262626" stroke-width="1.6"/>
<line x1="1020.8" y1="138" x2="1014.5999999999999" y2="138" stroke="#262626" stroke-width="1.6"/>
<text x="668.5" y="146.8" font-size="23.8" text-anchor="end" style="font-family:&quot;Liberation Sans&quot;, sans-serif;" fill="#000">1.9</text>
<line x1="676.9" y1="222.1" x2="683.1" y2="222.1" stroke="#262626" stroke-width="1.6"/>
<line x1="1020.8" y1="222.1" x2="1014.5999999999999" y2="222.1" stroke="#262626" stroke-width="1.6"/>
<text x="668.5" y="230.9" font-size="23.8" text-anchor="end" style="font-family:&quot;Liberation Sans&quot;, sans-serif;" fill="#000">1.8</text>
<line x1="676.9" y1="306.2" x2="683.1" y2="306.2" stroke="#262626" stroke-width="1.6"/>
<line x1="1020.8" y1="306.2" x2="1014.5999999999999" y2="306.2" stroke="#262626" stroke-width="1.6"/>
<text x="668.5" y="315" font-size="23.8" text-anchor="end" style="font-family:&quot;Liberation Sans&quot;, sans-serif;" fill="#000">1.7</text>
<line x1="695.6" y1="345.5" x2="695.6" y2="339.3" stroke="#262626" stroke-width="1.6"/>
<line x1="695.6" y1="49.2" x2="695.6" y2="55.400000000000006" stroke="#262626" stroke-width="1.6"/>
<text x="695.6" y="370.8" font-size="23.8" text-anchor="middle" style="font-family:&quot;Liberation Sans&quot;, sans-serif;" fill="#000">1.5</text>
<line x1="825.9" y1="345.5" x2="825.9" y2="339.3" stroke="#262626" stroke-width="1.6"/>
<line x1="825.9" y1="49.2" x2="825.9" y2="55.400000000000006" stroke="#262626" stroke-width="1.6"/>
<text x="825.9" y="370.8" font-size="23.8" text-anchor="middle" style="font-family:&quot;Liberation Sans&quot;, sans-serif;" fill="#000">1.6</text>
<line x1="955.5" y1="345.5" x2="955.5" y2="339.3" stroke="#262626" stroke-width="1.6"/>
<line x1="955.5" y1="49.2" x2="955.5" y2="55.400000000000006" stroke="#262626" stroke-width="1.6"/>
<text x="955.5" y="370.8" font-size="23.8" text-anchor="middle" style="font-family:&quot;Liberation Sans&quot;, sans-serif;" fill="#000">1.7</text>
<rect x="1047" y="46" width="24.8" height="301" fill="url(#seismic)" stroke="#111" stroke-width="1.6"/>
<text x="1095.8" y="54.3" font-size="23.8" text-anchor="middle" style="font-family:&quot;Liberation Sans&quot;, sans-serif;" fill="#000">2.5</text>
<line x1="1047" y1="111.4" x2="1052" y2="111.4" stroke="#262626" stroke-width="1.6"/>
<line x1="1071.8" y1="111.4" x2="1066.8" y2="111.4" stroke="#262626" stroke-width="1.6"/>
<text x="1095.8" y="119.7" font-size="23.8" text-anchor="middle" style="font-family:&quot;Liberation Sans&quot;, sans-serif;" fill="#000">2.0</text>
<line x1="1047" y1="195" x2="1052" y2="195" stroke="#262626" stroke-width="1.6"/>
<line x1="1071.8" y1="195" x2="1066.8" y2="195" stroke="#262626" stroke-width="1.6"/>
<text x="1095.8" y="203.3" font-size="23.8" text-anchor="middle" style="font-family:&quot;Liberation Sans&quot;, sans-serif;" fill="#000">1.0</text>
<line x1="1047" y1="278.6" x2="1052" y2="278.6" stroke="#262626" stroke-width="1.6"/>
<line x1="1071.8" y1="278.6" x2="1066.8" y2="278.6" stroke="#262626" stroke-width="1.6"/>
<text x="1095.8" y="286.9" font-size="23.8" text-anchor="middle" style="font-family:&quot;Liberation Sans&quot;, sans-serif;" fill="#000">0.5</text>
<text x="1095.8" y="355.3" font-size="23.8" text-anchor="middle" style="font-family:&quot;Liberation Sans&quot;, sans-serif;" fill="#000">0</text>
<g clip-path="url(#clipd)"><rect x="677" y="483.8" width="344.29999999999995" height="296.59999999999997" fill="url(#dgrad)"/><filter id="dstreak" filterUnits="userSpaceOnUse" x="677" y="483" width="345" height="298"><feTurbulence type="fractalNoise" baseFrequency="0.012 0.18" numOctaves="2" seed="13" result="n"/><feColorMatrix in="n" type="matrix" values="0 0 0 0 1  0 0 0 0 1  0 0 0 0 1  2.4 0 0 0 -1.05" result="d"/><feComposite in="d" in2="SourceAlpha" operator="in"/></filter><rect x="677" y="483.8" width="344.29999999999995" height="296.59999999999997" fill="#000" filter="url(#dstreak)" opacity="0.22"/><path d="M778,480 L781,504 L791.5,639.6 L797.5,693.8 L806.5,785" fill="none" stroke="#ffffff" stroke-width="4" stroke-linecap="round" stroke-linejoin="round" filter="url(#bl0_6)" opacity="0.8" stroke-dasharray="4 3.5"/><path d="M878.8,480 L884.8,513 L896.9,651.7 L909,785" fill="none" stroke="#ffffff" stroke-width="4" stroke-linecap="round" stroke-linejoin="round" filter="url(#bl0_6)" opacity="0.8" stroke-dasharray="4 3.5"/><path d="M945,480 L949.6,519 L966,654.7 L981.2,785" fill="none" stroke="#ffffff" stroke-width="4" stroke-linecap="round" stroke-linejoin="round" filter="url(#bl0_6)" opacity="0.8" stroke-dasharray="4 3.5"/><path d="M670,492.5 L776.4,505.6" fill="none" stroke="#ffffff" stroke-width="8.5" stroke-linecap="round" stroke-linejoin="round" filter="url(#bl1_0)" stroke-linecap="butt"/><path d="M781,503.5 L881.8,514.6" fill="none" stroke="#ffffff" stroke-width="8.5" stroke-linecap="round" stroke-linejoin="round" filter="url(#bl1_0)" stroke-linecap="butt"/><path d="M884.8,512.5 L948,520.6" fill="none" stroke="#ffffff" stroke-width="8.5" stroke-linecap="round" stroke-linejoin="round" filter="url(#bl1_0)" stroke-linecap="butt"/><path d="M951,518.5 L1030,529" fill="none" stroke="#ffffff" stroke-width="8.5" stroke-linecap="round" stroke-linejoin="round" filter="url(#bl1_0)" stroke-linecap="butt"/><path d="M722,637.5 L791.5,642.6" fill="none" stroke="#ffffff" stroke-width="8.5" stroke-linecap="round" stroke-linejoin="round" filter="url(#bl1_0)" stroke-linecap="butt"/><path d="M794.5,641 L896.9,653.2" fill="none" stroke="#ffffff" stroke-width="8.5" stroke-linecap="round" stroke-linejoin="round" filter="url(#bl1_0)" stroke-linecap="butt"/><path d="M900,651.7 L963,657.1" fill="none" stroke="#ffffff" stroke-width="8.5" stroke-linecap="round" stroke-linejoin="round" filter="url(#bl1_0)" stroke-linecap="butt"/><path d="M966,655.3 L1030,662" fill="none" stroke="#ffffff" stroke-width="8.5" stroke-linecap="round" stroke-linejoin="round" filter="url(#bl1_0)" stroke-linecap="butt"/><path d="M670,492.5 L776.4,505.6" fill="none" stroke="#ff1010" stroke-width="5.6" stroke-linecap="round" stroke-linejoin="round" filter="url(#bl0_6)" stroke-linecap="butt"/><path d="M781,503.5 L881.8,514.6" fill="none" stroke="#ff1010" stroke-width="5.6" stroke-linecap="round" stroke-linejoin="round" filter="url(#bl0_6)" stroke-linecap="butt"/><path d="M884.8,512.5 L948,520.6" fill="none" stroke="#ff1010" stroke-width="5.6" stroke-linecap="round" stroke-linejoin="round" filter="url(#bl0_6)" stroke-linecap="butt"/><path d="M951,518.5 L1030,529" fill="none" stroke="#ff1010" stroke-width="5.6" stroke-linecap="round" stroke-linejoin="round" filter="url(#bl0_6)" stroke-linecap="butt"/><path d="M722,637.5 L791.5,642.6" fill="none" stroke="#ff1010" stroke-width="5.6" stroke-linecap="round" stroke-linejoin="round" filter="url(#bl0_6)" stroke-linecap="butt"/><path d="M794.5,641 L896.9,653.2" fill="none" stroke="#ff1010" stroke-width="5.6" stroke-linecap="round" stroke-linejoin="round" filter="url(#bl0_6)" stroke-linecap="butt"/><path d="M900,651.7 L963,657.1" fill="none" stroke="#ff1010" stroke-width="5.6" stroke-linecap="round" stroke-linejoin="round" filter="url(#bl0_6)" stroke-linecap="butt"/><path d="M966,655.3 L1030,662" fill="none" stroke="#ff1010" stroke-width="5.6" stroke-linecap="round" stroke-linejoin="round" filter="url(#bl0_6)" stroke-linecap="butt"/><path d="M670,492.5 L776.4,505.6" fill="none" stroke="#b80000" stroke-width="2.6" stroke-linecap="round" stroke-linejoin="round" filter="url(#bl0_6)" stroke-linecap="butt"/><path d="M781,503.5 L881.8,514.6" fill="none" stroke="#b80000" stroke-width="2.6" stroke-linecap="round" stroke-linejoin="round" filter="url(#bl0_6)" stroke-linecap="butt"/><path d="M884.8,512.5 L948,520.6" fill="none" stroke="#b80000" stroke-width="2.6" stroke-linecap="round" stroke-linejoin="round" filter="url(#bl0_6)" stroke-linecap="butt"/><path d="M951,518.5 L1030,529" fill="none" stroke="#b80000" stroke-width="2.6" stroke-linecap="round" stroke-linejoin="round" filter="url(#bl0_6)" stroke-linecap="butt"/><path d="M722,637.5 L791.5,642.6" fill="none" stroke="#b80000" stroke-width="2.6" stroke-linecap="round" stroke-linejoin="round" filter="url(#bl0_6)" stroke-linecap="butt"/><path d="M794.5,641 L896.9,653.2" fill="none" stroke="#b80000" stroke-width="2.6" stroke-linecap="round" stroke-linejoin="round" filter="url(#bl0_6)" stroke-linecap="butt"/><path d="M900,651.7 L963,657.1" fill="none" stroke="#b80000" stroke-width="2.6" stroke-linecap="round" stroke-linejoin="round" filter="url(#bl0_6)" stroke-linecap="butt"/><path d="M966,655.3 L1030,662" fill="none" stroke="#b80000" stroke-width="2.6" stroke-linecap="round" stroke-linejoin="round" filter="url(#bl0_6)" stroke-linecap="butt"/><path d="M677,634 L722,638" fill="none" stroke="#5060f0" stroke-width="4" stroke-linecap="round" stroke-linejoin="round" filter="url(#bl1_0)"/><path d="M697,659.5 L731,659" fill="none" stroke="#8090f0" stroke-width="3" stroke-linecap="round" stroke-linejoin="round" filter="url(#bl1_0)"/><text transform="translate(696.67,598.76) scale(1.0567,1)" x="0" y="0" font-size="22.57" style="font-family:'Liberation Sans', sans-serif;" fill="#000" >(1, 0)</text><text transform="translate(816.29,598.76) scale(1.0447,1)" x="0" y="0" font-size="22.57" style="font-family:'Liberation Sans', sans-serif;" fill="#000" >(1, 1)</text><text transform="translate(707.74,708.66) scale(1.0747,1)" x="0" y="0" font-size="22.57" style="font-family:'Liberation Sans', sans-serif;" fill="#000" >(0, 0)</text><text transform="translate(827.67,708.66) scale(1.0567,1)" x="0" y="0" font-size="22.57" style="font-family:'Liberation Sans', sans-serif;" fill="#000" >(0, 1)</text></g>
<rect x="677" y="483.8" width="344.3" height="296.6" fill="none" stroke="#262626" stroke-width="1.6"/>
<line x1="677" y1="488.6" x2="683.2" y2="488.6" stroke="#262626" stroke-width="1.6"/>
<line x1="1021.3" y1="488.6" x2="1015.0999999999999" y2="488.6" stroke="#262626" stroke-width="1.6"/>
<text x="668.5" y="497.4" font-size="23.8" text-anchor="end" style="font-family:&quot;Liberation Sans&quot;, sans-serif;" fill="#000">1.5</text>
<line x1="677" y1="572.7" x2="683.2" y2="572.7" stroke="#262626" stroke-width="1.6"/>
<line x1="1021.3" y1="572.7" x2="1015.0999999999999" y2="572.7" stroke="#262626" stroke-width="1.6"/>
<text x="668.5" y="581.5" font-size="23.8" text-anchor="end" style="font-family:&quot;Liberation Sans&quot;, sans-serif;" fill="#000">1.4</text>
<line x1="677" y1="656.9" x2="683.2" y2="656.9" stroke="#262626" stroke-width="1.6"/>
<line x1="1021.3" y1="656.9" x2="1015.0999999999999" y2="656.9" stroke="#262626" stroke-width="1.6"/>
<text x="668.5" y="665.7" font-size="23.8" text-anchor="end" style="font-family:&quot;Liberation Sans&quot;, sans-serif;" fill="#000">1.3</text>
<line x1="677" y1="740.5" x2="683.2" y2="740.5" stroke="#262626" stroke-width="1.6"/>
<line x1="1021.3" y1="740.5" x2="1015.0999999999999" y2="740.5" stroke="#262626" stroke-width="1.6"/>
<text x="668.5" y="749.3" font-size="23.8" text-anchor="end" style="font-family:&quot;Liberation Sans&quot;, sans-serif;" fill="#000">1.2</text>
<line x1="695.9" y1="780.4" x2="695.9" y2="774.1999999999999" stroke="#262626" stroke-width="1.6"/>
<line x1="695.9" y1="483.8" x2="695.9" y2="490.0" stroke="#262626" stroke-width="1.6"/>
<text x="695.9" y="805.7" font-size="23.8" text-anchor="middle" style="font-family:&quot;Liberation Sans&quot;, sans-serif;" fill="#000">2.0</text>
<line x1="826" y1="780.4" x2="826" y2="774.1999999999999" stroke="#262626" stroke-width="1.6"/>
<line x1="826" y1="483.8" x2="826" y2="490.0" stroke="#262626" stroke-width="1.6"/>
<text x="826" y="805.7" font-size="23.8" text-anchor="middle" style="font-family:&quot;Liberation Sans&quot;, sans-serif;" fill="#000">2.1</text>
<line x1="956" y1="780.4" x2="956" y2="774.1999999999999" stroke="#262626" stroke-width="1.6"/>
<line x1="956" y1="483.8" x2="956" y2="490.0" stroke="#262626" stroke-width="1.6"/>
<text x="956" y="805.7" font-size="23.8" text-anchor="middle" style="font-family:&quot;Liberation Sans&quot;, sans-serif;" fill="#000">2.2</text>
<rect x="1047" y="481.3" width="24.8" height="301.5" fill="url(#seismic)" stroke="#111" stroke-width="1.6"/>
<text x="1104" y="489.6" font-size="23.8" text-anchor="middle" style="font-family:&quot;Liberation Sans&quot;, sans-serif;" fill="#000">1.0</text>
<line x1="1047" y1="547.3" x2="1052" y2="547.3" stroke="#262626" stroke-width="1.6"/>
<line x1="1071.8" y1="547.3" x2="1066.8" y2="547.3" stroke="#262626" stroke-width="1.6"/>
<text x="1104" y="555.6" font-size="23.8" text-anchor="middle" style="font-family:&quot;Liberation Sans&quot;, sans-serif;" fill="#000">0.5</text>
<line x1="1047" y1="629.9" x2="1052" y2="629.9" stroke="#262626" stroke-width="1.6"/>
<line x1="1071.8" y1="629.9" x2="1066.8" y2="629.9" stroke="#262626" stroke-width="1.6"/>
<text x="1104" y="638.2" font-size="23.8" text-anchor="middle" style="font-family:&quot;Liberation Sans&quot;, sans-serif;" fill="#000">0</text>
<line x1="1047" y1="714" x2="1052" y2="714" stroke="#262626" stroke-width="1.6"/>
<line x1="1071.8" y1="714" x2="1066.8" y2="714" stroke="#262626" stroke-width="1.6"/>
<text x="1104" y="722.3" font-size="23.8" text-anchor="middle" style="font-family:&quot;Liberation Sans&quot;, sans-serif;" fill="#000">−0.5</text>
<text x="1104" y="791.1" font-size="23.8" text-anchor="middle" style="font-family:&quot;Liberation Sans&quot;, sans-serif;" fill="#000">−1.0</text>
<g clip-path="url(#clipf)"><filter id="fspeck" filterUnits="userSpaceOnUse" x="677" y="919" width="344" height="296"><feGaussianBlur in="SourceAlpha" stdDeviation="7" result="ba"/><feTurbulence type="fractalNoise" baseFrequency="0.75" numOctaves="1" seed="2" result="n"/><feColorMatrix in="n" type="matrix" values="0 0 0 0 0.4  0 0 0 0 0.45  0 0 0 0 1  4.5 0 0 0 -2.35" result="d"/><feComposite in="d" in2="ba" operator="in"/></filter><filter id="fspeckr" filterUnits="userSpaceOnUse" x="677" y="919" width="344" height="296"><feGaussianBlur in="SourceAlpha" stdDeviation="7" result="ba"/><feTurbulence type="fractalNoise" baseFrequency="0.7" numOctaves="1" seed="5" result="n"/><feColorMatrix in="n" type="matrix" values="0 0 0 0 1  0 0 0 0 1  0 0 0 0 1  4.5 0 0 0 -2.3" result="d"/><feComposite in="d" in2="ba" operator="in"/></filter><filter id="fstreak" filterUnits="userSpaceOnUse" x="677" y="919" width="344" height="296"><feGaussianBlur in="SourceAlpha" stdDeviation="6" result="ba"/><feTurbulence type="fractalNoise" baseFrequency="0.01 0.16" numOctaves="2" seed="8" result="n"/><feColorMatrix in="n" type="matrix" values="0 0 0 0 0.92  0 0 0 0 0.42  0 0 0 0 0.42  2.6 0 0 0 -1.05" result="d"/><feComposite in="d" in2="ba" operator="in"/></filter><linearGradient id="fgrad" gradientUnits="userSpaceOnUse" x1="641.77" y1="974.12" x2="820.67" y2="926.95"><stop offset="0" stop-color="#f6cccc"/><stop offset="0.16" stop-color="#f7d3d3"/><stop offset="0.32" stop-color="#f8e0e0"/><stop offset="0.46" stop-color="#f7ecef"/><stop offset="0.62" stop-color="#f1f2fb"/><stop offset="0.84" stop-color="#ebedfa"/><stop offset="1" stop-color="#eaecfa"/></linearGradient><rect x="677" y="919.4" width="344.29999999999995" height="295.69999999999993" fill="url(#fgrad)"/><polygon points="670,1082 768,1088 785,1172 670,1170" fill="#f3baba" filter="url(#bl6_0)" opacity="0.65"/><polygon points="670,985 740,985 758,1075 670,1075" fill="#f5c8c8" filter="url(#bl6_0)" opacity="0.5"/><polygon points="670,1176 770,1176 790,1222 670,1222" fill="#f5cccc" filter="url(#bl4_0)"/><polygon points="811,912 1030,912 1030,1128 942,1079 850,976 835,955" fill="#f4c0c0" filter="url(#bl6_0)"/><polygon points="811,912 880,912 882,975 850,976 835,955" fill="#f5d2d2" filter="url(#bl6_0)"/><polygon points="905,912 1030,912 1030,1095 960,1062 910,990" fill="#f2b2b2" filter="url(#bl10_0)"/><polygon points="840,980 942,1087 1030,1133 1030,1222 860,1222 850,1110" fill="#eceefa" filter="url(#bl6_0)"/><polygon points="985,1150 1030,1140 1030,1222 995,1222" fill="#f3d8e0" filter="url(#bl6_0)"/><polygon points="760,1172 845,1180 858,1222 760,1222" fill="#f6d2d2" filter="url(#bl6_0)"/><polygon points="672,1158 693,1163 697,1222 672,1222" fill="#dcdff8" filter="url(#bl3_0)"/><rect x="677" y="919.4" width="344.29999999999995" height="295.69999999999993" fill="#000" filter="url(#fstreak)" opacity="0.3"/><polygon points="715,919 811,919 835,1000 850,1060 873,1150 885,1215 805,1215 770,1140 745,1060 725,990" fill="#000" filter="url(#fspeck)" opacity="0.45"/><polygon points="840,980 942,1087 1030,1133 1030,1222 860,1222 850,1110" fill="#000" filter="url(#fspeck)" opacity="0.45"/><rect x="677" y="919.4" width="344.29999999999995" height="295.69999999999993" fill="#000" filter="url(#fspeckr)" opacity="0.35"/><path d="M811,929.5 L842.7,1054.5 L850,1084 L873,1164 L876,1181" fill="none" stroke="#f08080" stroke-width="4" stroke-linecap="round" stroke-linejoin="round" filter="url(#bl1_0)"/><path d="M811,929.5 L842.7,1054.5 L850,1084 L873,1164 L876,1181" fill="none" stroke="#dd2020" stroke-width="2.0" stroke-linecap="round" stroke-linejoin="round" filter="url(#bl0_6)"/><path d="M882,919 L890,978.6" fill="none" stroke="#6070f0" stroke-width="2.3" stroke-linecap="round" stroke-linejoin="round" filter="url(#bl0_6)"/><path d="M909.6,919 L934.8,1052" fill="none" stroke="#6070f0" stroke-width="2.3" stroke-linecap="round" stroke-linejoin="round" filter="url(#bl0_6)"/><path d="M939.4,919 L969,1084" fill="none" stroke="#6070f0" stroke-width="2.3" stroke-linecap="round" stroke-linejoin="round" filter="url(#bl0_6)"/><path d="M971.4,919 L1001,1107" fill="none" stroke="#6070f0" stroke-width="2.3" stroke-linecap="round" stroke-linejoin="round" filter="url(#bl0_6)"/><path d="M1001,919 L1021,1033.6" fill="none" stroke="#6070f0" stroke-width="2.3" stroke-linecap="round" stroke-linejoin="round" filter="url(#bl0_6)"/><path d="M895.8,1029 L905,1102 L910.7,1148 L913,1171" fill="none" stroke="#f07070" stroke-width="3.8" stroke-linecap="round" stroke-linejoin="round" filter="url(#bl1_0)"/><path d="M895.8,1029 L905,1102 L910.7,1148 L913,1171" fill="none" stroke="#d01010" stroke-width="2.2" stroke-linecap="round" stroke-linejoin="round" filter="url(#bl0_6)"/><path d="M939.4,1084 L950.8,1157 L955.4,1215" fill="none" stroke="#f07070" stroke-width="3.8" stroke-linecap="round" stroke-linejoin="round" filter="url(#bl1_0)"/><path d="M939.4,1084 L950.8,1157 L955.4,1215" fill="none" stroke="#d01010" stroke-width="2.2" stroke-linecap="round" stroke-linejoin="round" filter="url(#bl0_6)"/><path d="M971.4,1098 L987.5,1194 L991,1215" fill="none" stroke="#f07070" stroke-width="3.8" stroke-linecap="round" stroke-linejoin="round" filter="url(#bl1_0)"/><path d="M971.4,1098 L987.5,1194 L991,1215" fill="none" stroke="#d01010" stroke-width="2.2" stroke-linecap="round" stroke-linejoin="round" filter="url(#bl0_6)"/><path d="M1005.8,1125 L1019.6,1194" fill="none" stroke="#f07070" stroke-width="3.8" stroke-linecap="round" stroke-linejoin="round" filter="url(#bl1_0)"/><path d="M1005.8,1125 L1019.6,1194" fill="none" stroke="#d01010" stroke-width="2.2" stroke-linecap="round" stroke-linejoin="round" filter="url(#bl0_6)"/><path d="M913,1171 L912,1205" fill="none" stroke="#d03030" stroke-width="2.5" stroke-linecap="round" stroke-linejoin="round" filter="url(#bl0_6)" stroke-dasharray="2 2"/><text transform="translate(720.55,1057.6) scale(1.1200,1)" x="0" y="0" font-size="28.41" style="font-family:'Liberation Sans', sans-serif;" fill="#000" >N</text><text transform="translate(741.56,1060.6) scale(1.1200,1)" x="0" y="0" font-size="17.54" style="font-family:'Liberation Sans', sans-serif;" fill="#000" >L</text><text transform="translate(760.53,1061.61) scale(1.0804,1)" x="0" y="0" font-size="42" style="font-family:'Liberation Serif', serif;" fill="#000" >=</text><text transform="translate(791.71,1057.31) scale(1.1070,1)" x="0" y="0" font-size="29.04" style="font-family:'Liberation Serif', serif;" fill="#000" >0</text><text transform="translate(861.43,1056) scale(0.9325,1)" x="0" y="0" font-size="23.91" style="font-family:'Liberation Sans', sans-serif;" fill="#000" >1</text><text transform="translate(909.17,1056) scale(1.0443,1)" x="0" y="0" font-size="23.57" style="font-family:'Liberation Sans', sans-serif;" fill="#000" >2</text><text transform="translate(942.72,1055.77) scale(0.9512,1)" x="0" y="0" font-size="23.24" style="font-family:'Liberation Sans', sans-serif;" fill="#000" >3</text><text transform="translate(971.7,1056) scale(1.0434,1)" x="0" y="0" font-size="23.91" style="font-family:'Liberation Sans', sans-serif;" fill="#000" >4</text><text transform="translate(998.99,1055.76) scale(0.9646,1)" x="0" y="0" font-size="23.57" style="font-family:'Liberation Sans', sans-serif;" fill="#000" >5</text></g>
<rect x="677" y="919.4" width="344.3" height="295.7" fill="none" stroke="#262626" stroke-width="1.6"/>
<line x1="677" y1="924.6" x2="683.2" y2="924.6" stroke="#262626" stroke-width="1.6"/>
<line x1="1021.3" y1="924.6" x2="1015.0999999999999" y2="924.6" stroke="#262626" stroke-width="1.6"/>
<text x="668.5" y="933.4" font-size="23.8" text-anchor="end" style="font-family:&quot;Liberation Sans&quot;, sans-serif;" fill="#000">0.7</text>
<line x1="677" y1="1008.5" x2="683.2" y2="1008.5" stroke="#262626" stroke-width="1.6"/>
<line x1="1021.3" y1="1008.5" x2="1015.0999999999999" y2="1008.5" stroke="#262626" stroke-width="1.6"/>
<text x="668.5" y="1017.3" font-size="23.8" text-anchor="end" style="font-family:&quot;Liberation Sans&quot;, sans-serif;" fill="#000">0.5</text>
<line x1="677" y1="1092.4" x2="683.2" y2="1092.4" stroke="#262626" stroke-width="1.6"/>
<line x1="1021.3" y1="1092.4" x2="1015.0999999999999" y2="1092.4" stroke="#262626" stroke-width="1.6"/>
<text x="668.5" y="1101.2" font-size="23.8" text-anchor="end" style="font-family:&quot;Liberation Sans&quot;, sans-serif;" fill="#000">0.3</text>
<line x1="677" y1="1176" x2="683.2" y2="1176" stroke="#262626" stroke-width="1.6"/>
<line x1="1021.3" y1="1176" x2="1015.0999999999999" y2="1176" stroke="#262626" stroke-width="1.6"/>
<text x="668.5" y="1184.8" font-size="23.8" text-anchor="end" style="font-family:&quot;Liberation Sans&quot;, sans-serif;" fill="#000">0.1</text>
<line x1="695.9" y1="1215.1" x2="695.9" y2="1208.8999999999999" stroke="#262626" stroke-width="1.6"/>
<line x1="695.9" y1="919.4" x2="695.9" y2="925.6" stroke="#262626" stroke-width="1.6"/>
<text x="695.9" y="1240.4" font-size="23.8" text-anchor="middle" style="font-family:&quot;Liberation Sans&quot;, sans-serif;" fill="#000">1.1</text>
<line x1="826" y1="1215.1" x2="826" y2="1208.8999999999999" stroke="#262626" stroke-width="1.6"/>
<line x1="826" y1="919.4" x2="826" y2="925.6" stroke="#262626" stroke-width="1.6"/>
<text x="826" y="1240.4" font-size="23.8" text-anchor="middle" style="font-family:&quot;Liberation Sans&quot;, sans-serif;" fill="#000">1.3</text>
<line x1="956" y1="1215.1" x2="956" y2="1208.8999999999999" stroke="#262626" stroke-width="1.6"/>
<line x1="956" y1="919.4" x2="956" y2="925.6" stroke="#262626" stroke-width="1.6"/>
<text x="956" y="1240.4" font-size="23.8" text-anchor="middle" style="font-family:&quot;Liberation Sans&quot;, sans-serif;" fill="#000">1.5</text>
<rect x="1047" y="916.2" width="24.8" height="301" fill="url(#seismic)" stroke="#111" stroke-width="1.6"/>
<text x="1104" y="924.5" font-size="23.8" text-anchor="middle" style="font-family:&quot;Liberation Sans&quot;, sans-serif;" fill="#000">1.0</text>
<line x1="1047" y1="982" x2="1052" y2="982" stroke="#262626" stroke-width="1.6"/>
<line x1="1071.8" y1="982" x2="1066.8" y2="982" stroke="#262626" stroke-width="1.6"/>
<text x="1104" y="990.3" font-size="23.8" text-anchor="middle" style="font-family:&quot;Liberation Sans&quot;, sans-serif;" fill="#000">0.5</text>
<line x1="1047" y1="1064.5" x2="1052" y2="1064.5" stroke="#262626" stroke-width="1.6"/>
<line x1="1071.8" y1="1064.5" x2="1066.8" y2="1064.5" stroke="#262626" stroke-width="1.6"/>
<text x="1104" y="1072.8" font-size="23.8" text-anchor="middle" style="font-family:&quot;Liberation Sans&quot;, sans-serif;" fill="#000">0</text>
<line x1="1047" y1="1148" x2="1052" y2="1148" stroke="#262626" stroke-width="1.6"/>
<line x1="1071.8" y1="1148" x2="1066.8" y2="1148" stroke="#262626" stroke-width="1.6"/>
<text x="1104" y="1156.3" font-size="23.8" text-anchor="middle" style="font-family:&quot;Liberation Sans&quot;, sans-serif;" fill="#000">−0.5</text>
<text x="1104" y="1225.5" font-size="23.8" text-anchor="middle" style="font-family:&quot;Liberation Sans&quot;, sans-serif;" fill="#000">−1.0</text>
<text transform="translate(591.4,45.73) scale(1.1500,1)" x="0" y="0" font-size="24.6" letter-spacing="0.56" style="font-family:'Liberation Sans', sans-serif;" fill="#000" >(b)</text>
<text transform="translate(591.4,480.73) scale(1.1500,1)" x="0" y="0" font-size="24.6" letter-spacing="0.38" style="font-family:'Liberation Sans', sans-serif;" fill="#000" >(d)</text>
<text transform="translate(593.2,915.73) scale(1.1500,1)" x="0" y="0" font-size="24.6" letter-spacing="1.52" style="font-family:'Liberation Sans', sans-serif;" fill="#000" >(f)</text>
<text transform="translate(826.96,408.2) scale(0.9143,1)" x="0" y="0" font-size="30.72" style="font-family:'Liberation Sans', sans-serif;" fill="#000" >V</text>
<text transform="translate(845.81,412.39) scale(0.9223,1)" x="0" y="0" font-size="21.41" style="font-family:'Liberation Sans', sans-serif;" fill="#000" >SRB</text>
<path d="M898.2,385 Q883,400.4 898.2,415.8 L897.1,415.8 Q888.3,400.4 897.1,385 Z" fill="#000"/>
<text transform="translate(898.86,408.2) scale(0.9242,1)" x="0" y="0" font-size="30.72" style="font-family:'Liberation Sans', sans-serif;" fill="#000" >V</text>
<path d="M919.8,385 Q934.6,400.4 919.8,415.8 L920.9,415.8 Q929.3,400.4 920.9,385 Z" fill="#000"/>
<text transform="translate(836.01,842) scale(0.8929,1)" x="0" y="0" font-size="30.43" style="font-family:'Liberation Sans', sans-serif;" fill="#000" >V</text>
<text transform="translate(854.46,846) scale(0.9815,1)" x="0" y="0" font-size="19.57" style="font-family:'Liberation Sans', sans-serif;" fill="#000" >RP</text>
<path d="M892.3,819.2 Q877.7,834.15 892.3,849.1 L891.2,849.1 Q883,834.15 891.2,819.2 Z" fill="#000"/>
<text transform="translate(893.46,842) scale(0.8929,1)" x="0" y="0" font-size="30.43" style="font-family:'Liberation Sans', sans-serif;" fill="#000" >V</text>
<path d="M913,819.2 Q926.6,834.15 913,849.1 L914.1,849.1 Q921.3,834.15 914.1,819.2 Z" fill="#000"/>
<text transform="translate(836.01,1278.5) scale(0.8929,1)" x="0" y="0" font-size="30.43" style="font-family:'Liberation Sans', sans-serif;" fill="#000" >V</text>
<text transform="translate(854.34,1282.5) scale(1.0597,1)" x="0" y="0" font-size="19.57" style="font-family:'Liberation Sans', sans-serif;" fill="#000" >LP</text>
<path d="M892.3,1255.7 Q877.7,1270.65 892.3,1285.6 L891.2,1285.6 Q883,1270.65 891.2,1255.7 Z" fill="#000"/>
<text transform="translate(893.46,1278.5) scale(0.8929,1)" x="0" y="0" font-size="30.43" style="font-family:'Liberation Sans', sans-serif;" fill="#000" >V</text>
<path d="M913,1255.7 Q926.6,1270.65 913,1285.6 L914.1,1285.6 Q921.3,1270.65 914.1,1255.7 Z" fill="#000"/>
<text transform="translate(618.6,241.99) rotate(-90) scale(0.8929,1)" x="0" y="0" font-size="30.29" style="font-family:'Liberation Sans', sans-serif;" fill="#000" >V</text>
<text transform="translate(622.99,223.86) rotate(-90) scale(0.9283,1)" x="0" y="0" font-size="20.7" style="font-family:'Liberation Sans', sans-serif;" fill="#000" >SLB</text>
<path d="M596,175.7 Q610.9,189.5 625.8,175.7 L625.8,176.8 Q610.9,184.2 596,176.8 Z" fill="#000"/>
<text transform="translate(618.6,174.29) rotate(-90) scale(0.8929,1)" x="0" y="0" font-size="30.29" style="font-family:'Liberation Sans', sans-serif;" fill="#000" >V</text>
<path d="M596,154.9 Q610.9,141.3 625.8,154.9 L625.8,153.8 Q610.9,146.6 596,153.8 Z" fill="#000"/>
<text transform="translate(618.6,657.14) rotate(-90) scale(0.9022,1)" x="0" y="0" font-size="30.29" style="font-family:'Liberation Sans', sans-serif;" fill="#000" >V</text>
<text transform="translate(623.2,638.26) rotate(-90) scale(0.9732,1)" x="0" y="0" font-size="21.3" style="font-family:'Liberation Sans', sans-serif;" fill="#000" >LP</text>
<path d="M596,601.7 Q610.9,614.5 625.8,601.7 L625.8,602.8 Q610.9,609.2 596,602.8 Z" fill="#000"/>
<text transform="translate(618.6,599.74) rotate(-90) scale(0.9425,1)" x="0" y="0" font-size="30.29" style="font-family:'Liberation Sans', sans-serif;" fill="#000" >V</text>
<path d="M596,578.7 Q610.9,565.9 625.8,578.7 L625.8,577.6 Q610.9,571.2 596,577.6 Z" fill="#000"/>
<text transform="translate(618.6,1106.64) rotate(-90) scale(0.8929,1)" x="0" y="0" font-size="30.29" style="font-family:'Liberation Sans', sans-serif;" fill="#000" >V</text>
<text transform="translate(623.2,1088.42) rotate(-90) scale(0.9517,1)" x="0" y="0" font-size="21.3" style="font-family:'Liberation Sans', sans-serif;" fill="#000" >LB</text>
<path d="M596,1052.3 Q610.9,1065.1 625.8,1052.3 L625.8,1053.4 Q610.9,1059.8 596,1053.4 Z" fill="#000"/>
<text transform="translate(618.6,1050.74) rotate(-90) scale(0.8972,1)" x="0" y="0" font-size="30.29" style="font-family:'Liberation Sans', sans-serif;" fill="#000" >V</text>
<path d="M596,1030.6 Q610.9,1018.8 625.8,1030.6 L625.8,1029.5 Q610.9,1024.1 596,1029.5 Z" fill="#000"/>
<text transform="translate(941.2,29.8) scale(1.1200,1)" x="0" y="0" font-size="27.25" style="font-family:'Liberation Sans', sans-serif;" fill="#000" >I</text>
<text transform="translate(949.2,34.03) scale(1.0324,1)" x="0" y="0" font-size="17.18" style="font-family:'Liberation Sans', sans-serif;" fill="#000" >S</text>
<path d="M979.5,10 Q965.5,23.2 979.5,36.4 L978.4,36.4 Q970.8,23.2 978.4,10 Z" fill="#000"/>
<path d="M985.2,16.8 L996.8,28.5 M996.8,16.8 L985.2,28.5" stroke="#000" stroke-width="1.35" fill="none"/>
<text transform="translate(1000.35,29.55) scale(1.0781,1)" x="0" y="0" font-size="24.59" style="font-family:'Liberation Serif', serif;" fill="#000" >10</text>
<text transform="translate(1027.28,21) scale(1.1200,1)" x="0" y="0" font-size="16.67" style="font-family:'Liberation Serif', serif;" fill="#000" >2</text>
<text transform="translate(1038.81,30.14) scale(1.0613,1)" x="0" y="0" font-size="24.56" style="font-family:'Liberation Sans', sans-serif;" fill="#000" >pA</text>
<path d="M1073.5,10 Q1087.5,23.2 1073.5,36.4 L1074.6,36.4 Q1082.2,23.2 1074.6,10 Z" fill="#000"/>
<text transform="translate(900.17,464.88) scale(1.0591,1)" x="0" y="0" font-size="22.41" style="font-family:'Liberation Serif', serif;" fill="#000" >d</text>
<text transform="translate(912.62,465.1) scale(1.0573,1)" x="0" y="0" font-size="22.9" style="font-family:'Liberation Sans', sans-serif;" fill="#000" >I</text>
<text transform="translate(918.47,467.84) scale(0.8930,1)" x="0" y="0" font-size="15.77" style="font-family:'Liberation Sans', sans-serif;" fill="#000" >S</text>
<text transform="translate(930,469.47) scale(0.9723,1)" x="0" y="0" font-size="32.54" style="font-family:'Liberation Serif', serif;" fill="#000" >/</text>
<text transform="translate(939.67,464.88) scale(1.0591,1)" x="0" y="0" font-size="22.41" style="font-family:'Liberation Serif', serif;" fill="#000" >d</text>
<text transform="translate(951.69,465.1) scale(0.9801,1)" x="0" y="0" font-size="22.9" style="font-family:'Liberation Sans', sans-serif;" fill="#000" >V</text>
<text transform="translate(966.89,467.6) scale(1.0550,1)" x="0" y="0" font-size="14.35" style="font-family:'Liberation Sans', sans-serif;" fill="#000" >LP</text>
<text transform="translate(994.49,464.84) scale(0.8929,1)" x="0" y="0" font-size="23.64" style="font-family:'Liberation Sans', sans-serif;" fill="#000" >(</text>
<text transform="translate(1003.39,464.89) scale(0.9362,1)" x="0" y="0" font-size="21.5" style="font-family:'Liberation Sans', sans-serif;" fill="#000" >arb.</text>
<text transform="translate(1048.01,464.89) scale(1.0079,1)" x="0" y="0" font-size="21.22" style="font-family:'Liberation Sans', sans-serif;" fill="#000" >units</text>
<text transform="translate(1093.89,464.84) scale(0.9260,1)" x="0" y="0" font-size="23.64" style="font-family:'Liberation Sans', sans-serif;" fill="#000" >)</text>
<text transform="translate(900.17,899.48) scale(1.0591,1)" x="0" y="0" font-size="22.41" style="font-family:'Liberation Serif', serif;" fill="#000" >d</text>
<text transform="translate(912.62,899.7) scale(1.0573,1)" x="0" y="0" font-size="22.9" style="font-family:'Liberation Sans', sans-serif;" fill="#000" >I</text>
<text transform="translate(918.47,902.44) scale(0.8930,1)" x="0" y="0" font-size="15.77" style="font-family:'Liberation Sans', sans-serif;" fill="#000" >S</text>
<text transform="translate(930,904.07) scale(0.9723,1)" x="0" y="0" font-size="32.54" style="font-family:'Liberation Serif', serif;" fill="#000" >/</text>
<text transform="translate(939.67,899.48) scale(1.0591,1)" x="0" y="0" font-size="22.41" style="font-family:'Liberation Serif', serif;" fill="#000" >d</text>
<text transform="translate(951.69,899.7) scale(0.9801,1)" x="0" y="0" font-size="22.9" style="font-family:'Liberation Sans', sans-serif;" fill="#000" >V</text>
<text transform="translate(966.89,902.2) scale(1.0550,1)" x="0" y="0" font-size="14.35" style="font-family:'Liberation Sans', sans-serif;" fill="#000" >LP</text>
<text transform="translate(994.49,899.44) scale(0.8929,1)" x="0" y="0" font-size="23.64" style="font-family:'Liberation Sans', sans-serif;" fill="#000" >(</text>
<text transform="translate(1003.39,899.49) scale(0.9362,1)" x="0" y="0" font-size="21.5" style="font-family:'Liberation Sans', sans-serif;" fill="#000" >arb.</text>
<text transform="translate(1048.01,899.49) scale(1.0079,1)" x="0" y="0" font-size="21.22" style="font-family:'Liberation Sans', sans-serif;" fill="#000" >units</text>
<text transform="translate(1093.89,899.44) scale(0.9260,1)" x="0" y="0" font-size="23.64" style="font-family:'Liberation Sans', sans-serif;" fill="#000" >)</text>
</svg>
</body></html>
